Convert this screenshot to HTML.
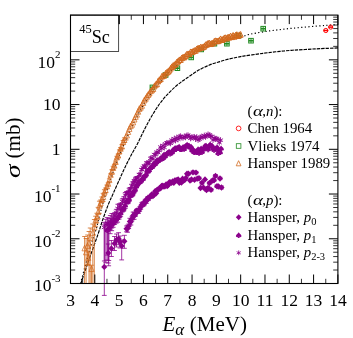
<!DOCTYPE html>
<html><head><meta charset="utf-8"><title>45Sc</title><style>
html,body{margin:0;padding:0;background:#fff;}body{width:353px;height:338px;position:relative;overflow:hidden;font-family:"Liberation Serif",serif;color:#000;}
.t{position:absolute;white-space:nowrap;line-height:1;}#txt{position:absolute;left:0;top:0;width:353px;height:338px;opacity:0.999;will-change:opacity;}
.c{position:absolute;white-space:nowrap;line-height:1;transform:translateX(-50%);}
.r{position:absolute;white-space:nowrap;line-height:1;text-align:right;}
sup,sub{line-height:0;}
</style></head><body>
<svg width="353" height="338" viewBox="0 0 353 338" style="position:absolute;left:0;top:0;overflow:visible">
<rect x="0" y="0" width="353" height="338" fill="#fff"/>
<path d="M80.50 283.50 C81.17 281.00 83.15 273.45 84.50 268.50 C85.85 263.55 87.28 258.48 88.60 253.80 C89.92 249.12 91.12 244.57 92.40 240.40 C93.68 236.23 95.37 231.87 96.30 228.80 C97.23 225.73 97.30 224.80 98.00 222.00 C98.70 219.20 99.50 215.75 100.50 212.00 C101.50 208.25 102.75 203.67 104.00 199.50 C105.25 195.33 106.58 191.25 108.00 187.00 C109.42 182.75 110.83 178.67 112.50 174.00 C114.17 169.33 116.08 163.93 118.00 159.00 C119.92 154.07 121.80 149.54 124.00 144.43 C126.20 139.31 128.97 133.13 131.20 128.32 C133.43 123.50 135.33 119.48 137.40 115.54 C139.47 111.61 141.52 108.08 143.60 104.70 C145.68 101.32 147.82 98.27 149.90 95.29 C151.98 92.31 154.03 89.48 156.10 86.80 C158.17 84.12 160.22 81.53 162.30 79.20 C164.38 76.87 166.52 74.80 168.60 72.80 C170.68 70.80 172.48 69.32 174.80 67.20 C177.12 65.08 180.18 61.98 182.50 60.10 C184.82 58.22 186.63 57.20 188.70 55.90 C190.77 54.60 192.82 53.42 194.90 52.30 C196.98 51.18 199.12 50.21 201.20 49.19 C203.28 48.18 205.33 47.13 207.40 46.22 C209.47 45.31 211.52 44.52 213.60 43.74 C215.68 42.96 217.82 42.23 219.90 41.53 C221.98 40.82 224.03 40.13 226.10 39.51 C228.17 38.88 229.90 38.17 232.30 37.79 C234.70 37.41 237.88 37.74 240.50 37.22 C243.12 36.71 245.42 35.39 248.00 34.70 C250.58 34.01 252.67 33.70 256.00 33.10 C259.33 32.50 264.00 31.68 268.00 31.10 C272.00 30.52 276.00 30.07 280.00 29.60 C284.00 29.13 287.83 28.72 292.00 28.30 C296.17 27.88 300.67 27.48 305.00 27.10 C309.33 26.72 314.17 26.32 318.00 26.00 C321.83 25.68 324.58 25.45 328.00 25.20 C331.42 24.95 336.75 24.62 338.50 24.50" fill="none" stroke="#000" stroke-width="1.2" stroke-dasharray="1.2 2.4"/>
<path d="M80.90 283.50 C81.87 280.63 84.78 271.88 86.70 266.30 C88.62 260.72 90.48 255.43 92.40 250.00 C94.32 244.57 96.47 238.78 98.20 233.70 C99.93 228.62 101.12 224.37 102.80 219.50 C104.48 214.63 106.60 208.75 108.30 204.50 C110.00 200.25 111.22 198.00 113.00 194.00 C114.78 190.00 117.00 184.93 119.00 180.50 C121.00 176.07 123.00 171.57 125.00 167.40 C127.00 163.23 128.93 159.37 131.00 155.45 C133.07 151.53 135.30 147.95 137.40 143.90 C139.50 139.85 141.52 135.25 143.60 131.15 C145.68 127.05 147.82 122.99 149.90 119.30 C151.98 115.61 154.03 112.16 156.10 109.00 C158.17 105.84 160.22 102.95 162.30 100.32 C164.38 97.69 166.52 95.40 168.60 93.21 C170.68 91.03 172.73 89.05 174.80 87.20 C176.87 85.34 178.92 83.67 181.00 82.10 C183.08 80.53 184.98 79.39 187.30 77.79 C189.62 76.19 192.62 73.98 194.90 72.50 C197.18 71.02 198.92 70.00 201.00 68.90 C203.08 67.80 205.32 66.80 207.40 65.90 C209.48 65.00 211.42 64.22 213.50 63.50 C215.58 62.78 217.82 62.22 219.90 61.60 C221.98 60.98 223.93 60.35 226.00 59.80 C228.07 59.25 230.22 58.76 232.30 58.30 C234.38 57.83 236.42 57.40 238.50 57.00 C240.58 56.59 241.67 56.35 244.80 55.87 C247.93 55.39 253.43 54.64 257.30 54.11 C261.17 53.58 264.22 53.14 268.00 52.68 C271.78 52.22 276.00 51.74 280.00 51.35 C284.00 50.96 287.83 50.63 292.00 50.32 C296.17 50.01 300.33 49.76 305.00 49.49 C309.67 49.21 314.42 48.91 320.00 48.65 C325.58 48.38 335.42 48.02 338.50 47.90" fill="none" stroke="#000" stroke-width="1.15" stroke-dasharray="3.4 1.0"/>
<rect x="150.10" y="85.10" width="4.60" height="4.60" fill="none" stroke="#228b22" stroke-width="1.00"/>
<path d="M150.10 87.40h4.6" stroke="#228b22" stroke-width="1.7"/>
<path d="M152.40 85.10v4.6" stroke="#228b22" stroke-width="0.9"/>
<rect x="163.30" y="72.70" width="4.60" height="4.60" fill="none" stroke="#228b22" stroke-width="1.00"/>
<path d="M163.30 75.00h4.6" stroke="#228b22" stroke-width="1.7"/>
<path d="M165.60 72.70v4.6" stroke="#228b22" stroke-width="0.9"/>
<rect x="175.10" y="65.90" width="4.60" height="4.60" fill="none" stroke="#228b22" stroke-width="1.00"/>
<path d="M175.10 68.20h4.6" stroke="#228b22" stroke-width="1.7"/>
<path d="M177.40 65.90v4.6" stroke="#228b22" stroke-width="0.9"/>
<rect x="188.90" y="55.10" width="4.60" height="4.60" fill="none" stroke="#228b22" stroke-width="1.00"/>
<path d="M188.90 57.40h4.6" stroke="#228b22" stroke-width="1.7"/>
<path d="M191.20 55.10v4.6" stroke="#228b22" stroke-width="0.9"/>
<rect x="198.90" y="47.10" width="4.60" height="4.60" fill="none" stroke="#228b22" stroke-width="1.00"/>
<path d="M198.90 49.40h4.6" stroke="#228b22" stroke-width="1.7"/>
<path d="M201.20 47.10v4.6" stroke="#228b22" stroke-width="0.9"/>
<rect x="212.10" y="41.40" width="4.60" height="4.60" fill="none" stroke="#228b22" stroke-width="1.00"/>
<path d="M212.10 43.70h4.6" stroke="#228b22" stroke-width="1.7"/>
<path d="M214.40 41.40v4.6" stroke="#228b22" stroke-width="0.9"/>
<rect x="224.60" y="41.40" width="4.60" height="4.60" fill="none" stroke="#228b22" stroke-width="1.00"/>
<path d="M224.60 43.70h4.6" stroke="#228b22" stroke-width="1.7"/>
<path d="M226.90 41.40v4.6" stroke="#228b22" stroke-width="0.9"/>
<rect x="236.30" y="33.40" width="4.60" height="4.60" fill="none" stroke="#228b22" stroke-width="1.00"/>
<path d="M236.30 35.70h4.6" stroke="#228b22" stroke-width="1.7"/>
<path d="M238.60 33.40v4.6" stroke="#228b22" stroke-width="0.9"/>
<rect x="248.70" y="38.40" width="4.60" height="4.60" fill="none" stroke="#228b22" stroke-width="1.00"/>
<path d="M248.70 40.70h4.6" stroke="#228b22" stroke-width="1.7"/>
<path d="M251.00 38.40v4.6" stroke="#228b22" stroke-width="0.9"/>
<rect x="260.90" y="26.40" width="4.60" height="4.60" fill="none" stroke="#228b22" stroke-width="1.00"/>
<path d="M260.90 28.70h4.6" stroke="#228b22" stroke-width="1.7"/>
<path d="M263.20 26.40v4.6" stroke="#228b22" stroke-width="0.9"/>
<circle cx="325.80" cy="30.50" r="2.10" fill="none" stroke="#ff0000" stroke-width="1.00"/>
<path d="M323.50 30.50h4.6" stroke="#ff0000" stroke-width="1.5"/>
<circle cx="330.70" cy="27.10" r="2.10" fill="none" stroke="#ff0000" stroke-width="1.00"/>
<path d="M328.40 27.10h4.6" stroke="#ff0000" stroke-width="1.5"/>
<path d="M84.60 236.50V283.50M82.20 236.50h4.80" stroke="#d2691e" stroke-width="0.80" fill="none"/>
<path d="M86.10 238.50V283.50M83.70 238.50h4.80" stroke="#d2691e" stroke-width="0.80" fill="none"/>
<path d="M87.60 235.00V265.00M85.20 235.00h4.80M85.20 265.00h4.80" stroke="#d2691e" stroke-width="0.80" fill="none"/>
<path d="M89.00 231.50V283.50M86.60 231.50h4.80" stroke="#d2691e" stroke-width="0.80" fill="none"/>
<path d="M90.20 228.00V283.50M87.80 228.00h4.80" stroke="#d2691e" stroke-width="0.80" fill="none"/>
<path d="M91.50 265.20V283.50M89.10 265.20h4.80" stroke="#d2691e" stroke-width="0.80" fill="none"/>
<path d="M92.80 224.00V283.50M90.40 224.00h4.80" stroke="#d2691e" stroke-width="0.80" fill="none"/>
<path d="M94.30 219.50V283.50M91.90 219.50h4.80" stroke="#d2691e" stroke-width="0.80" fill="none"/>
<path d="M88.30 252.00V265.00M85.90 252.00h4.80M85.90 265.00h4.80" stroke="#d2691e" stroke-width="0.80" fill="none"/>
<path d="M95.60 216.23V226.29M93.20 216.23h4.80M93.20 226.29h4.80" stroke="#d2691e" stroke-width="0.80" fill="none"/>
<path d="M96.85 213.24V222.85M94.45 213.24h4.80M94.45 222.85h4.80" stroke="#d2691e" stroke-width="0.80" fill="none"/>
<path d="M98.10 207.35V218.66M95.70 207.35h4.80M95.70 218.66h4.80" stroke="#d2691e" stroke-width="0.80" fill="none"/>
<path d="M99.35 201.19V213.31M96.95 201.19h4.80M96.95 213.31h4.80" stroke="#d2691e" stroke-width="0.80" fill="none"/>
<path d="M100.60 200.05V206.82M98.20 200.05h4.80M98.20 206.82h4.80" stroke="#d2691e" stroke-width="0.80" fill="none"/>
<path d="M101.85 197.01V202.68M99.45 197.01h4.80M99.45 202.68h4.80" stroke="#d2691e" stroke-width="0.80" fill="none"/>
<path d="M103.10 193.34V201.38M100.70 193.34h4.80M100.70 201.38h4.80" stroke="#d2691e" stroke-width="0.80" fill="none"/>
<path d="M104.35 189.72V195.82M101.95 189.72h4.80M101.95 195.82h4.80" stroke="#d2691e" stroke-width="0.80" fill="none"/>
<path d="M105.60 188.04V192.69M103.20 188.04h4.80M103.20 192.69h4.80" stroke="#d2691e" stroke-width="0.80" fill="none"/>
<path d="M106.85 185.06V188.18M104.45 185.06h4.80M104.45 188.18h4.80" stroke="#d2691e" stroke-width="0.80" fill="none"/>
<path d="M108.10 182.98V185.11M105.70 182.98h4.80M105.70 185.11h4.80" stroke="#d2691e" stroke-width="0.80" fill="none"/>
<path d="M109.35 178.83V181.64M106.95 178.83h4.80M106.95 181.64h4.80" stroke="#d2691e" stroke-width="0.80" fill="none"/>
<path d="M110.60 173.84V176.17M108.20 173.84h4.80M108.20 176.17h4.80" stroke="#d2691e" stroke-width="0.80" fill="none"/>
<path d="M111.85 169.73V174.01M109.45 169.73h4.80M109.45 174.01h4.80" stroke="#d2691e" stroke-width="0.80" fill="none"/>
<path d="M113.10 166.28V169.91M110.70 166.28h4.80M110.70 169.91h4.80" stroke="#d2691e" stroke-width="0.80" fill="none"/>
<path d="M114.35 164.27V167.31M111.95 164.27h4.80M111.95 167.31h4.80" stroke="#d2691e" stroke-width="0.80" fill="none"/>
<path d="M115.60 161.07V163.25M113.20 161.07h4.80M113.20 163.25h4.80" stroke="#d2691e" stroke-width="0.80" fill="none"/>
<path d="M116.85 156.29V158.87M114.45 156.29h4.80M114.45 158.87h4.80" stroke="#d2691e" stroke-width="0.80" fill="none"/>
<path d="M118.10 154.09V157.28M115.70 154.09h4.80M115.70 157.28h4.80" stroke="#d2691e" stroke-width="0.80" fill="none"/>
<path d="M119.35 149.90V153.54M116.95 149.90h4.80M116.95 153.54h4.80" stroke="#d2691e" stroke-width="0.80" fill="none"/>
<path d="M120.60 147.54V150.38M118.20 147.54h4.80M118.20 150.38h4.80" stroke="#d2691e" stroke-width="0.80" fill="none"/>
<path d="M121.85 144.71V148.67M119.45 144.71h4.80M119.45 148.67h4.80" stroke="#d2691e" stroke-width="0.80" fill="none"/>
<path d="M123.10 140.47V144.08M120.70 140.47h4.80M120.70 144.08h4.80" stroke="#d2691e" stroke-width="0.80" fill="none"/>
<path d="M124.35 137.89V142.34M121.95 137.89h4.80M121.95 142.34h4.80" stroke="#d2691e" stroke-width="0.80" fill="none"/>
<path d="M125.60 137.28V138.37" stroke="#d2691e" stroke-width="0.80" fill="none"/>
<path d="M126.85 135.17V136.09" stroke="#d2691e" stroke-width="0.80" fill="none"/>
<path d="M128.10 131.35V132.91" stroke="#d2691e" stroke-width="0.80" fill="none"/>
<path d="M129.35 128.46V129.75" stroke="#d2691e" stroke-width="0.80" fill="none"/>
<path d="M130.60 125.59V127.06" stroke="#d2691e" stroke-width="0.80" fill="none"/>
<path d="M131.85 124.22V125.60" stroke="#d2691e" stroke-width="0.80" fill="none"/>
<path d="M133.10 121.98V123.09" stroke="#d2691e" stroke-width="0.80" fill="none"/>
<path d="M134.35 118.99V120.39" stroke="#d2691e" stroke-width="0.80" fill="none"/>
<path d="M135.60 116.32V117.58" stroke="#d2691e" stroke-width="0.80" fill="none"/>
<path d="M136.85 113.94V115.68" stroke="#d2691e" stroke-width="0.80" fill="none"/>
<path d="M138.10 111.16V112.62" stroke="#d2691e" stroke-width="0.80" fill="none"/>
<path d="M139.35 108.31V109.81" stroke="#d2691e" stroke-width="0.80" fill="none"/>
<path d="M140.60 106.94V108.73" stroke="#d2691e" stroke-width="0.80" fill="none"/>
<path d="M141.85 105.40V106.49" stroke="#d2691e" stroke-width="0.80" fill="none"/>
<path d="M143.10 102.35V103.82" stroke="#d2691e" stroke-width="0.80" fill="none"/>
<path d="M144.35 99.89V101.15" stroke="#d2691e" stroke-width="0.80" fill="none"/>
<path d="M145.60 98.42V99.34" stroke="#d2691e" stroke-width="0.80" fill="none"/>
<path d="M146.85 96.06V97.62" stroke="#d2691e" stroke-width="0.80" fill="none"/>
<path d="M148.10 94.56V95.61" stroke="#d2691e" stroke-width="0.80" fill="none"/>
<path d="M149.35 92.80V94.47" stroke="#d2691e" stroke-width="0.80" fill="none"/>
<path d="M150.60 90.74V91.99" stroke="#d2691e" stroke-width="0.80" fill="none"/>
<path d="M151.85 89.56V91.24" stroke="#d2691e" stroke-width="0.80" fill="none"/>
<path d="M153.10 88.29V89.95" stroke="#d2691e" stroke-width="0.80" fill="none"/>
<path d="M154.35 85.93V87.15" stroke="#d2691e" stroke-width="0.80" fill="none"/>
<path d="M155.60 84.12V85.80" stroke="#d2691e" stroke-width="0.80" fill="none"/>
<path d="M156.85 83.85V84.80" stroke="#d2691e" stroke-width="0.80" fill="none"/>
<path d="M158.10 81.05V82.08" stroke="#d2691e" stroke-width="0.80" fill="none"/>
<path d="M159.35 79.50V80.78" stroke="#d2691e" stroke-width="0.80" fill="none"/>
<path d="M160.60 78.67V79.73" stroke="#d2691e" stroke-width="0.80" fill="none"/>
<path d="M161.85 76.14V77.36" stroke="#d2691e" stroke-width="0.80" fill="none"/>
<path d="M163.10 75.31V76.67" stroke="#d2691e" stroke-width="0.80" fill="none"/>
<path d="M164.35 74.93V76.42" stroke="#d2691e" stroke-width="0.80" fill="none"/>
<path d="M165.60 73.02V74.43" stroke="#d2691e" stroke-width="0.80" fill="none"/>
<path d="M166.85 72.30V73.16" stroke="#d2691e" stroke-width="0.80" fill="none"/>
<path d="M168.10 71.05V72.63" stroke="#d2691e" stroke-width="0.80" fill="none"/>
<path d="M169.35 69.83V71.43" stroke="#d2691e" stroke-width="0.80" fill="none"/>
<path d="M170.60 68.15V69.35" stroke="#d2691e" stroke-width="0.80" fill="none"/>
<path d="M171.85 66.47V67.90" stroke="#d2691e" stroke-width="0.80" fill="none"/>
<path d="M173.10 65.57V66.44" stroke="#d2691e" stroke-width="0.80" fill="none"/>
<path d="M174.35 64.65V65.61" stroke="#d2691e" stroke-width="0.80" fill="none"/>
<path d="M175.60 63.78V64.63" stroke="#d2691e" stroke-width="0.80" fill="none"/>
<path d="M176.85 62.03V62.99" stroke="#d2691e" stroke-width="0.80" fill="none"/>
<path d="M178.10 60.94V62.10" stroke="#d2691e" stroke-width="0.80" fill="none"/>
<path d="M179.35 59.41V61.08" stroke="#d2691e" stroke-width="0.80" fill="none"/>
<path d="M180.60 59.56V60.51" stroke="#d2691e" stroke-width="0.80" fill="none"/>
<path d="M181.85 57.73V58.88" stroke="#d2691e" stroke-width="0.80" fill="none"/>
<path d="M183.10 57.03V57.96" stroke="#d2691e" stroke-width="0.80" fill="none"/>
<path d="M184.35 56.57V58.36" stroke="#d2691e" stroke-width="0.80" fill="none"/>
<path d="M185.60 55.40V56.69" stroke="#d2691e" stroke-width="0.80" fill="none"/>
<path d="M186.85 54.18V55.08" stroke="#d2691e" stroke-width="0.80" fill="none"/>
<path d="M188.10 53.70V54.77" stroke="#d2691e" stroke-width="0.80" fill="none"/>
<path d="M189.35 53.78V54.74" stroke="#d2691e" stroke-width="0.80" fill="none"/>
<path d="M190.60 51.39V53.14" stroke="#d2691e" stroke-width="0.80" fill="none"/>
<path d="M191.85 51.89V52.84" stroke="#d2691e" stroke-width="0.80" fill="none"/>
<path d="M193.10 51.27V52.10" stroke="#d2691e" stroke-width="0.80" fill="none"/>
<path d="M194.35 50.07V51.84" stroke="#d2691e" stroke-width="0.80" fill="none"/>
<path d="M195.60 50.10V51.60" stroke="#d2691e" stroke-width="0.80" fill="none"/>
<path d="M196.85 48.70V49.87" stroke="#d2691e" stroke-width="0.80" fill="none"/>
<path d="M198.10 47.75V49.33" stroke="#d2691e" stroke-width="0.80" fill="none"/>
<path d="M199.35 47.74V49.32" stroke="#d2691e" stroke-width="0.80" fill="none"/>
<path d="M200.60 47.10V48.12" stroke="#d2691e" stroke-width="0.80" fill="none"/>
<path d="M201.85 46.90V48.68" stroke="#d2691e" stroke-width="0.80" fill="none"/>
<path d="M203.10 46.47V48.08" stroke="#d2691e" stroke-width="0.80" fill="none"/>
<path d="M204.35 45.87V47.41" stroke="#d2691e" stroke-width="0.80" fill="none"/>
<path d="M205.60 44.46V45.77" stroke="#d2691e" stroke-width="0.80" fill="none"/>
<path d="M206.85 44.33V45.16" stroke="#d2691e" stroke-width="0.80" fill="none"/>
<path d="M208.10 43.15V44.23" stroke="#d2691e" stroke-width="0.80" fill="none"/>
<path d="M209.35 42.84V44.33" stroke="#d2691e" stroke-width="0.80" fill="none"/>
<path d="M210.60 43.60V44.84" stroke="#d2691e" stroke-width="0.80" fill="none"/>
<path d="M211.85 42.82V44.60" stroke="#d2691e" stroke-width="0.80" fill="none"/>
<path d="M213.10 42.68V43.84" stroke="#d2691e" stroke-width="0.80" fill="none"/>
<path d="M214.35 41.12V42.14" stroke="#d2691e" stroke-width="0.80" fill="none"/>
<path d="M215.60 40.65V41.65" stroke="#d2691e" stroke-width="0.80" fill="none"/>
<path d="M216.85 40.55V42.25" stroke="#d2691e" stroke-width="0.80" fill="none"/>
<path d="M218.10 40.66V41.94" stroke="#d2691e" stroke-width="0.80" fill="none"/>
<path d="M219.35 39.77V41.36" stroke="#d2691e" stroke-width="0.80" fill="none"/>
<path d="M220.60 38.52V39.98" stroke="#d2691e" stroke-width="0.80" fill="none"/>
<path d="M221.85 39.39V40.97" stroke="#d2691e" stroke-width="0.80" fill="none"/>
<path d="M223.10 38.90V40.18" stroke="#d2691e" stroke-width="0.80" fill="none"/>
<path d="M224.35 37.44V39.03" stroke="#d2691e" stroke-width="0.80" fill="none"/>
<path d="M225.60 37.29V38.90" stroke="#d2691e" stroke-width="0.80" fill="none"/>
<path d="M226.85 38.16V39.35" stroke="#d2691e" stroke-width="0.80" fill="none"/>
<path d="M228.10 36.62V38.37" stroke="#d2691e" stroke-width="0.80" fill="none"/>
<path d="M229.35 37.18V38.15" stroke="#d2691e" stroke-width="0.80" fill="none"/>
<path d="M230.60 35.89V36.84" stroke="#d2691e" stroke-width="0.80" fill="none"/>
<path d="M231.85 36.46V38.06" stroke="#d2691e" stroke-width="0.80" fill="none"/>
<path d="M233.10 34.95V36.58" stroke="#d2691e" stroke-width="0.80" fill="none"/>
<path d="M234.35 36.14V37.59" stroke="#d2691e" stroke-width="0.80" fill="none"/>
<path d="M235.60 34.94V36.29" stroke="#d2691e" stroke-width="0.80" fill="none"/>
<path d="M236.85 34.62V35.44" stroke="#d2691e" stroke-width="0.80" fill="none"/>
<path d="M238.10 35.41V36.86" stroke="#d2691e" stroke-width="0.80" fill="none"/>
<path d="M239.35 34.32V36.05" stroke="#d2691e" stroke-width="0.80" fill="none"/>
<path d="M240.60 33.96V35.63" stroke="#d2691e" stroke-width="0.80" fill="none"/>
<path d="M84.60 245.20L87.21 250.84L81.99 250.84Z" fill="none" stroke="#d2691e" stroke-width="0.72"/>
<path d="M86.10 249.20L88.71 254.84L83.49 254.84Z" fill="none" stroke="#d2691e" stroke-width="0.72"/>
<path d="M87.60 242.70L90.21 248.34L84.99 248.34Z" fill="none" stroke="#d2691e" stroke-width="0.72"/>
<path d="M89.00 240.20L91.61 245.84L86.39 245.84Z" fill="none" stroke="#d2691e" stroke-width="0.72"/>
<path d="M90.20 234.70L92.81 240.34L87.59 240.34Z" fill="none" stroke="#d2691e" stroke-width="0.72"/>
<path d="M91.50 265.90L94.11 271.54L88.89 271.54Z" fill="none" stroke="#d2691e" stroke-width="0.72"/>
<path d="M92.80 229.70L95.41 235.34L90.19 235.34Z" fill="none" stroke="#d2691e" stroke-width="0.72"/>
<path d="M94.30 224.20L96.91 229.84L91.69 229.84Z" fill="none" stroke="#d2691e" stroke-width="0.72"/>
<path d="M88.30 254.70L90.91 260.34L85.69 260.34Z" fill="none" stroke="#d2691e" stroke-width="0.72"/>
<path d="M95.60 217.30L98.21 222.94L92.99 222.94Z" fill="none" stroke="#d2691e" stroke-width="0.72"/>
<path d="M96.85 214.12L99.46 219.75L94.24 219.75Z" fill="none" stroke="#d2691e" stroke-width="0.72"/>
<path d="M98.10 208.97L100.71 214.61L95.49 214.61Z" fill="none" stroke="#d2691e" stroke-width="0.72"/>
<path d="M99.35 203.16L101.96 208.80L96.74 208.80Z" fill="none" stroke="#d2691e" stroke-width="0.72"/>
<path d="M100.60 199.90L103.21 205.53L97.99 205.53Z" fill="none" stroke="#d2691e" stroke-width="0.72"/>
<path d="M101.85 196.35L104.46 201.98L99.24 201.98Z" fill="none" stroke="#d2691e" stroke-width="0.72"/>
<path d="M103.10 193.78L105.71 199.42L100.49 199.42Z" fill="none" stroke="#d2691e" stroke-width="0.72"/>
<path d="M104.35 189.26L106.96 194.89L101.74 194.89Z" fill="none" stroke="#d2691e" stroke-width="0.72"/>
<path d="M105.60 187.07L108.21 192.70L102.99 192.70Z" fill="none" stroke="#d2691e" stroke-width="0.72"/>
<path d="M106.85 183.32L109.46 188.96L104.24 188.96Z" fill="none" stroke="#d2691e" stroke-width="0.72"/>
<path d="M108.10 180.74L110.71 186.38L105.49 186.38Z" fill="none" stroke="#d2691e" stroke-width="0.72"/>
<path d="M109.35 176.94L111.96 182.58L106.74 182.58Z" fill="none" stroke="#d2691e" stroke-width="0.72"/>
<path d="M110.60 171.70L113.21 177.34L107.99 177.34Z" fill="none" stroke="#d2691e" stroke-width="0.72"/>
<path d="M111.85 168.57L114.46 174.21L109.24 174.21Z" fill="none" stroke="#d2691e" stroke-width="0.72"/>
<path d="M113.10 164.80L115.71 170.43L110.49 170.43Z" fill="none" stroke="#d2691e" stroke-width="0.72"/>
<path d="M114.35 162.49L116.96 168.13L111.74 168.13Z" fill="none" stroke="#d2691e" stroke-width="0.72"/>
<path d="M115.60 158.86L118.21 164.50L112.99 164.50Z" fill="none" stroke="#d2691e" stroke-width="0.72"/>
<path d="M116.85 154.28L119.46 159.92L114.24 159.92Z" fill="none" stroke="#d2691e" stroke-width="0.72"/>
<path d="M118.10 152.39L120.71 158.02L115.49 158.02Z" fill="none" stroke="#d2691e" stroke-width="0.72"/>
<path d="M119.35 148.42L121.96 154.05L116.74 154.05Z" fill="none" stroke="#d2691e" stroke-width="0.72"/>
<path d="M120.60 145.66L123.21 151.30L117.99 151.30Z" fill="none" stroke="#d2691e" stroke-width="0.72"/>
<path d="M121.85 143.39L124.46 149.03L119.24 149.03Z" fill="none" stroke="#d2691e" stroke-width="0.72"/>
<path d="M123.10 138.98L125.71 144.61L120.49 144.61Z" fill="none" stroke="#d2691e" stroke-width="0.72"/>
<path d="M124.35 136.82L126.96 142.45L121.74 142.45Z" fill="none" stroke="#d2691e" stroke-width="0.72"/>
<path d="M125.60 134.52L128.21 140.16L122.99 140.16Z" fill="none" stroke="#d2691e" stroke-width="0.72"/>
<path d="M126.85 132.33L129.46 137.96L124.24 137.96Z" fill="none" stroke="#d2691e" stroke-width="0.72"/>
<path d="M128.10 128.83L130.71 134.47L125.49 134.47Z" fill="none" stroke="#d2691e" stroke-width="0.72"/>
<path d="M129.35 125.81L131.96 131.44L126.74 131.44Z" fill="none" stroke="#d2691e" stroke-width="0.72"/>
<path d="M130.60 123.03L133.21 128.66L127.99 128.66Z" fill="none" stroke="#d2691e" stroke-width="0.72"/>
<path d="M131.85 121.61L134.46 127.25L129.24 127.25Z" fill="none" stroke="#d2691e" stroke-width="0.73"/>
<path d="M133.10 119.23L135.71 124.87L130.49 124.87Z" fill="none" stroke="#d2691e" stroke-width="0.74"/>
<path d="M134.35 116.39L136.96 122.03L131.74 122.03Z" fill="none" stroke="#d2691e" stroke-width="0.75"/>
<path d="M135.60 113.65L138.21 119.29L132.99 119.29Z" fill="none" stroke="#d2691e" stroke-width="0.76"/>
<path d="M136.85 111.51L139.46 117.15L134.24 117.15Z" fill="none" stroke="#d2691e" stroke-width="0.77"/>
<path d="M138.10 108.59L140.71 114.23L135.49 114.23Z" fill="none" stroke="#d2691e" stroke-width="0.78"/>
<path d="M139.35 105.76L141.96 111.40L136.74 111.40Z" fill="none" stroke="#d2691e" stroke-width="0.79"/>
<path d="M140.60 104.53L143.21 110.17L137.99 110.17Z" fill="none" stroke="#d2691e" stroke-width="0.79"/>
<path d="M141.85 102.65L144.46 108.28L139.24 108.28Z" fill="none" stroke="#d2691e" stroke-width="0.80"/>
<path d="M143.10 99.78L145.71 105.42L140.49 105.42Z" fill="none" stroke="#d2691e" stroke-width="0.81"/>
<path d="M144.35 97.22L146.96 102.85L141.74 102.85Z" fill="none" stroke="#d2691e" stroke-width="0.82"/>
<path d="M145.60 95.58L148.21 101.22L142.99 101.22Z" fill="none" stroke="#d2691e" stroke-width="0.83"/>
<path d="M146.85 93.54L149.46 99.18L144.24 99.18Z" fill="none" stroke="#d2691e" stroke-width="0.84"/>
<path d="M148.10 91.79L150.71 97.42L145.49 97.42Z" fill="none" stroke="#d2691e" stroke-width="0.85"/>
<path d="M149.35 90.34L151.96 95.98L146.74 95.98Z" fill="none" stroke="#d2691e" stroke-width="0.86"/>
<path d="M150.60 88.06L153.21 93.70L147.99 93.70Z" fill="none" stroke="#d2691e" stroke-width="0.86"/>
<path d="M151.85 87.10L154.46 92.74L149.24 92.74Z" fill="none" stroke="#d2691e" stroke-width="0.87"/>
<path d="M153.10 85.82L155.71 91.46L150.49 91.46Z" fill="none" stroke="#d2691e" stroke-width="0.88"/>
<path d="M154.35 83.24L156.96 88.88L151.74 88.88Z" fill="none" stroke="#d2691e" stroke-width="0.89"/>
<path d="M155.60 81.66L158.21 87.30L152.99 87.30Z" fill="none" stroke="#d2691e" stroke-width="0.90"/>
<path d="M156.85 81.03L159.46 86.66L154.24 86.66Z" fill="none" stroke="#d2691e" stroke-width="0.91"/>
<path d="M158.10 78.26L160.71 83.90L155.49 83.90Z" fill="none" stroke="#d2691e" stroke-width="0.92"/>
<path d="M159.35 76.84L161.96 82.48L156.74 82.48Z" fill="none" stroke="#d2691e" stroke-width="0.93"/>
<path d="M160.60 75.90L163.21 81.54L157.99 81.54Z" fill="none" stroke="#d2691e" stroke-width="0.93"/>
<path d="M161.85 73.45L164.46 79.09L159.24 79.09Z" fill="none" stroke="#d2691e" stroke-width="0.94"/>
<path d="M163.10 72.69L165.71 78.33L160.49 78.33Z" fill="none" stroke="#d2691e" stroke-width="0.95"/>
<path d="M164.35 72.37L166.96 78.01L161.74 78.01Z" fill="none" stroke="#d2691e" stroke-width="0.96"/>
<path d="M165.60 70.42L168.21 76.06L162.99 76.06Z" fill="none" stroke="#d2691e" stroke-width="0.97"/>
<path d="M166.85 69.43L169.46 75.07L164.24 75.07Z" fill="none" stroke="#d2691e" stroke-width="0.98"/>
<path d="M168.10 68.54L170.71 74.18L165.49 74.18Z" fill="none" stroke="#d2691e" stroke-width="0.99"/>
<path d="M169.35 67.33L171.96 72.97L166.74 72.97Z" fill="none" stroke="#d2691e" stroke-width="1.00"/>
<path d="M170.60 65.45L173.21 71.09L167.99 71.09Z" fill="none" stroke="#d2691e" stroke-width="1.00"/>
<path d="M171.85 63.88L174.46 69.52L169.24 69.52Z" fill="none" stroke="#d2691e" stroke-width="1.00"/>
<path d="M173.10 62.71L175.71 68.35L170.49 68.35Z" fill="none" stroke="#d2691e" stroke-width="1.00"/>
<path d="M174.35 61.83L176.96 67.47L171.74 67.47Z" fill="none" stroke="#d2691e" stroke-width="1.00"/>
<path d="M175.60 60.91L178.21 66.54L172.99 66.54Z" fill="none" stroke="#d2691e" stroke-width="1.00"/>
<path d="M176.85 59.21L179.46 64.85L174.24 64.85Z" fill="none" stroke="#d2691e" stroke-width="1.00"/>
<path d="M178.10 58.22L180.71 63.86L175.49 63.86Z" fill="none" stroke="#d2691e" stroke-width="1.00"/>
<path d="M179.35 56.95L181.96 62.58L176.74 62.58Z" fill="none" stroke="#d2691e" stroke-width="1.00"/>
<path d="M180.60 56.73L183.21 62.37L177.99 62.37Z" fill="none" stroke="#d2691e" stroke-width="1.00"/>
<path d="M181.85 55.00L184.46 60.64L179.24 60.64Z" fill="none" stroke="#d2691e" stroke-width="1.00"/>
<path d="M183.10 54.20L185.71 59.83L180.49 59.83Z" fill="none" stroke="#d2691e" stroke-width="1.00"/>
<path d="M184.35 54.16L186.96 59.80L181.74 59.80Z" fill="none" stroke="#d2691e" stroke-width="1.00"/>
<path d="M185.60 52.75L188.21 58.38L182.99 58.38Z" fill="none" stroke="#d2691e" stroke-width="1.00"/>
<path d="M186.85 51.33L189.46 56.97L184.24 56.97Z" fill="none" stroke="#d2691e" stroke-width="1.00"/>
<path d="M188.10 50.94L190.71 56.57L185.49 56.57Z" fill="none" stroke="#d2691e" stroke-width="1.00"/>
<path d="M189.35 50.96L191.96 56.60L186.74 56.60Z" fill="none" stroke="#d2691e" stroke-width="1.00"/>
<path d="M190.60 48.96L193.21 54.60L187.99 54.60Z" fill="none" stroke="#d2691e" stroke-width="1.00"/>
<path d="M191.85 49.07L194.46 54.70L189.24 54.70Z" fill="none" stroke="#d2691e" stroke-width="1.00"/>
<path d="M193.10 48.39L195.71 54.02L190.49 54.02Z" fill="none" stroke="#d2691e" stroke-width="1.00"/>
<path d="M194.35 47.66L196.96 53.29L191.74 53.29Z" fill="none" stroke="#d2691e" stroke-width="1.00"/>
<path d="M195.60 47.55L198.21 53.18L192.99 53.18Z" fill="none" stroke="#d2691e" stroke-width="1.00"/>
<path d="M196.85 45.99L199.46 51.62L194.24 51.62Z" fill="none" stroke="#d2691e" stroke-width="1.00"/>
<path d="M198.10 45.24L200.71 50.88L195.49 50.88Z" fill="none" stroke="#d2691e" stroke-width="1.00"/>
<path d="M199.35 45.23L201.96 50.87L196.74 50.87Z" fill="none" stroke="#d2691e" stroke-width="1.00"/>
<path d="M200.60 44.31L203.21 49.95L197.99 49.95Z" fill="none" stroke="#d2691e" stroke-width="1.00"/>
<path d="M201.85 44.49L204.46 50.13L199.24 50.13Z" fill="none" stroke="#d2691e" stroke-width="1.00"/>
<path d="M203.10 43.98L205.71 49.61L200.49 49.61Z" fill="none" stroke="#d2691e" stroke-width="1.00"/>
<path d="M204.35 43.34L206.96 48.98L201.74 48.98Z" fill="none" stroke="#d2691e" stroke-width="1.00"/>
<path d="M205.60 41.82L208.21 47.45L202.99 47.45Z" fill="none" stroke="#d2691e" stroke-width="1.00"/>
<path d="M206.85 41.44L209.46 47.08L204.24 47.08Z" fill="none" stroke="#d2691e" stroke-width="1.00"/>
<path d="M208.10 40.39L210.71 46.03L205.49 46.03Z" fill="none" stroke="#d2691e" stroke-width="1.00"/>
<path d="M209.35 40.28L211.96 45.92L206.74 45.92Z" fill="none" stroke="#d2691e" stroke-width="1.00"/>
<path d="M210.60 40.92L213.21 46.56L207.99 46.56Z" fill="none" stroke="#d2691e" stroke-width="1.00"/>
<path d="M211.85 40.41L214.46 46.05L209.24 46.05Z" fill="none" stroke="#d2691e" stroke-width="1.00"/>
<path d="M213.10 39.96L215.71 45.60L210.49 45.60Z" fill="none" stroke="#d2691e" stroke-width="1.00"/>
<path d="M214.35 38.33L216.96 43.97L211.74 43.97Z" fill="none" stroke="#d2691e" stroke-width="1.00"/>
<path d="M215.60 37.85L218.21 43.49L212.99 43.49Z" fill="none" stroke="#d2691e" stroke-width="1.00"/>
<path d="M216.85 38.10L219.46 43.73L214.24 43.73Z" fill="none" stroke="#d2691e" stroke-width="1.00"/>
<path d="M218.10 38.00L220.71 43.64L215.49 43.64Z" fill="none" stroke="#d2691e" stroke-width="1.00"/>
<path d="M219.35 37.27L221.96 42.90L216.74 42.90Z" fill="none" stroke="#d2691e" stroke-width="1.00"/>
<path d="M220.60 35.95L223.21 41.58L217.99 41.58Z" fill="none" stroke="#d2691e" stroke-width="1.00"/>
<path d="M221.85 36.88L224.46 42.52L219.24 42.52Z" fill="none" stroke="#d2691e" stroke-width="1.00"/>
<path d="M223.10 36.24L225.71 41.87L220.49 41.87Z" fill="none" stroke="#d2691e" stroke-width="1.00"/>
<path d="M224.35 34.94L226.96 40.57L221.74 40.57Z" fill="none" stroke="#d2691e" stroke-width="1.00"/>
<path d="M225.60 34.80L228.21 40.43L222.99 40.43Z" fill="none" stroke="#d2691e" stroke-width="1.00"/>
<path d="M226.85 35.45L229.46 41.09L224.24 41.09Z" fill="none" stroke="#d2691e" stroke-width="1.00"/>
<path d="M228.10 34.20L230.71 39.83L225.49 39.83Z" fill="none" stroke="#d2691e" stroke-width="1.00"/>
<path d="M229.35 34.37L231.96 40.00L226.74 40.00Z" fill="none" stroke="#d2691e" stroke-width="1.00"/>
<path d="M230.60 33.06L233.21 38.70L227.99 38.70Z" fill="none" stroke="#d2691e" stroke-width="1.00"/>
<path d="M231.85 33.96L234.46 39.60L229.24 39.60Z" fill="none" stroke="#d2691e" stroke-width="1.00"/>
<path d="M233.10 32.47L235.71 38.11L230.49 38.11Z" fill="none" stroke="#d2691e" stroke-width="1.00"/>
<path d="M234.35 33.56L236.96 39.20L231.74 39.20Z" fill="none" stroke="#d2691e" stroke-width="1.00"/>
<path d="M235.60 32.32L238.21 37.96L232.99 37.96Z" fill="none" stroke="#d2691e" stroke-width="1.00"/>
<path d="M236.85 31.73L239.46 37.37L234.24 37.37Z" fill="none" stroke="#d2691e" stroke-width="1.00"/>
<path d="M238.10 32.83L240.71 38.47L235.49 38.47Z" fill="none" stroke="#d2691e" stroke-width="1.00"/>
<path d="M239.35 31.88L241.96 37.52L236.74 37.52Z" fill="none" stroke="#d2691e" stroke-width="1.00"/>
<path d="M240.60 31.50L243.21 37.13L237.99 37.13Z" fill="none" stroke="#d2691e" stroke-width="1.00"/>
<path d="M104.30 222.32V260.98M101.90 222.32h4.80M101.90 260.98h4.80" stroke="#8b008b" stroke-width="0.80" fill="none"/>
<path d="M105.80 219.31V262.75M103.40 219.31h4.80M103.40 262.75h4.80" stroke="#8b008b" stroke-width="0.80" fill="none"/>
<path d="M107.30 217.46V255.05M104.90 217.46h4.80M104.90 255.05h4.80" stroke="#8b008b" stroke-width="0.80" fill="none"/>
<path d="M108.80 218.50V260.48M106.40 218.50h4.80M106.40 260.48h4.80" stroke="#8b008b" stroke-width="0.80" fill="none"/>
<path d="M110.30 215.54V229.96M107.90 215.54h4.80M107.90 229.96h4.80" stroke="#8b008b" stroke-width="0.80" fill="none"/>
<path d="M111.80 213.51V228.02M109.40 213.51h4.80M109.40 228.02h4.80" stroke="#8b008b" stroke-width="0.80" fill="none"/>
<path d="M113.30 214.03V221.95M110.90 214.03h4.80M110.90 221.95h4.80" stroke="#8b008b" stroke-width="0.80" fill="none"/>
<path d="M114.80 212.46V218.38M112.40 212.46h4.80M112.40 218.38h4.80" stroke="#8b008b" stroke-width="0.80" fill="none"/>
<path d="M116.30 209.33V215.89M113.90 209.33h4.80M113.90 215.89h4.80" stroke="#8b008b" stroke-width="0.80" fill="none"/>
<path d="M117.80 204.25V213.22M115.40 204.25h4.80M115.40 213.22h4.80" stroke="#8b008b" stroke-width="0.80" fill="none"/>
<path d="M119.30 203.76V209.19M116.90 203.76h4.80M116.90 209.19h4.80" stroke="#8b008b" stroke-width="0.80" fill="none"/>
<path d="M120.80 203.00V208.66M118.40 203.00h4.80M118.40 208.66h4.80" stroke="#8b008b" stroke-width="0.80" fill="none"/>
<path d="M122.30 198.85V204.40M119.90 198.85h4.80M119.90 204.40h4.80" stroke="#8b008b" stroke-width="0.80" fill="none"/>
<path d="M123.80 196.73V203.01M121.40 196.73h4.80M121.40 203.01h4.80" stroke="#8b008b" stroke-width="0.80" fill="none"/>
<path d="M125.30 192.53V198.19M122.90 192.53h4.80M122.90 198.19h4.80" stroke="#8b008b" stroke-width="0.80" fill="none"/>
<path d="M126.80 191.47V194.76M124.40 191.47h4.80M124.40 194.76h4.80" stroke="#8b008b" stroke-width="0.80" fill="none"/>
<path d="M128.05 191.18V194.89M125.65 191.18h4.80M125.65 194.89h4.80" stroke="#8b008b" stroke-width="0.80" fill="none"/>
<path d="M129.30 187.98V192.16M126.90 187.98h4.80M126.90 192.16h4.80" stroke="#8b008b" stroke-width="0.80" fill="none"/>
<path d="M130.55 187.55V191.14M128.15 187.55h4.80M128.15 191.14h4.80" stroke="#8b008b" stroke-width="0.80" fill="none"/>
<path d="M131.80 184.17V187.88M129.40 184.17h4.80M129.40 187.88h4.80" stroke="#8b008b" stroke-width="0.80" fill="none"/>
<path d="M133.05 181.55V185.60M130.65 181.55h4.80M130.65 185.60h4.80" stroke="#8b008b" stroke-width="0.80" fill="none"/>
<path d="M134.30 179.48V183.24M131.90 179.48h4.80M131.90 183.24h4.80" stroke="#8b008b" stroke-width="0.80" fill="none"/>
<path d="M135.55 177.27V181.79M133.15 177.27h4.80M133.15 181.79h4.80" stroke="#8b008b" stroke-width="0.80" fill="none"/>
<path d="M136.80 176.51V180.91M134.40 176.51h4.80M134.40 180.91h4.80" stroke="#8b008b" stroke-width="0.80" fill="none"/>
<path d="M138.05 176.95V178.89" stroke="#8b008b" stroke-width="0.80" fill="none"/>
<path d="M139.30 173.35V176.03M136.90 173.35h4.80M136.90 176.03h4.80" stroke="#8b008b" stroke-width="0.80" fill="none"/>
<path d="M140.55 173.23V175.03" stroke="#8b008b" stroke-width="0.80" fill="none"/>
<path d="M141.80 168.53V170.66M139.40 168.53h4.80M139.40 170.66h4.80" stroke="#8b008b" stroke-width="0.80" fill="none"/>
<path d="M143.05 166.78V168.70" stroke="#8b008b" stroke-width="0.80" fill="none"/>
<path d="M144.30 164.89V167.27M141.90 164.89h4.80M141.90 167.27h4.80" stroke="#8b008b" stroke-width="0.80" fill="none"/>
<path d="M145.55 165.95V168.58M143.15 165.95h4.80M143.15 168.58h4.80" stroke="#8b008b" stroke-width="0.80" fill="none"/>
<path d="M146.80 161.81V164.25M144.40 161.81h4.80M144.40 164.25h4.80" stroke="#8b008b" stroke-width="0.80" fill="none"/>
<path d="M148.05 162.43V164.23" stroke="#8b008b" stroke-width="0.80" fill="none"/>
<path d="M149.30 161.14V163.85M146.90 161.14h4.80M146.90 163.85h4.80" stroke="#8b008b" stroke-width="0.80" fill="none"/>
<path d="M150.55 157.73V158.96" stroke="#8b008b" stroke-width="0.80" fill="none"/>
<path d="M151.80 157.36V158.35" stroke="#8b008b" stroke-width="0.80" fill="none"/>
<path d="M153.05 158.43V159.59" stroke="#8b008b" stroke-width="0.80" fill="none"/>
<path d="M154.30 154.01V154.97" stroke="#8b008b" stroke-width="0.80" fill="none"/>
<path d="M155.55 154.24V155.16" stroke="#8b008b" stroke-width="0.80" fill="none"/>
<path d="M156.80 151.58V152.49" stroke="#8b008b" stroke-width="0.80" fill="none"/>
<path d="M158.05 152.28V153.04" stroke="#8b008b" stroke-width="0.80" fill="none"/>
<path d="M159.30 150.02V150.99" stroke="#8b008b" stroke-width="0.80" fill="none"/>
<path d="M160.55 146.49V147.41" stroke="#8b008b" stroke-width="0.80" fill="none"/>
<path d="M161.80 148.04V149.05" stroke="#8b008b" stroke-width="0.80" fill="none"/>
<path d="M163.05 144.85V146.09" stroke="#8b008b" stroke-width="0.80" fill="none"/>
<path d="M164.30 146.92V148.15" stroke="#8b008b" stroke-width="0.80" fill="none"/>
<path d="M165.55 143.52V144.41" stroke="#8b008b" stroke-width="0.80" fill="none"/>
<path d="M166.80 142.29V143.43" stroke="#8b008b" stroke-width="0.80" fill="none"/>
<path d="M168.05 142.51V143.32" stroke="#8b008b" stroke-width="0.80" fill="none"/>
<path d="M169.30 142.05V143.25" stroke="#8b008b" stroke-width="0.80" fill="none"/>
<path d="M170.55 142.93V143.81" stroke="#8b008b" stroke-width="0.80" fill="none"/>
<path d="M171.80 139.45V140.66" stroke="#8b008b" stroke-width="0.80" fill="none"/>
<path d="M173.05 140.59V141.69" stroke="#8b008b" stroke-width="0.80" fill="none"/>
<path d="M174.30 138.22V139.00" stroke="#8b008b" stroke-width="0.80" fill="none"/>
<path d="M175.55 140.00V140.96" stroke="#8b008b" stroke-width="0.80" fill="none"/>
<path d="M176.80 136.97V138.19" stroke="#8b008b" stroke-width="0.80" fill="none"/>
<path d="M178.05 138.81V139.96" stroke="#8b008b" stroke-width="0.80" fill="none"/>
<path d="M179.30 136.16V137.34" stroke="#8b008b" stroke-width="0.80" fill="none"/>
<path d="M180.55 135.65V136.83" stroke="#8b008b" stroke-width="0.80" fill="none"/>
<path d="M181.80 137.07V137.99" stroke="#8b008b" stroke-width="0.80" fill="none"/>
<path d="M183.05 137.16V138.38" stroke="#8b008b" stroke-width="0.80" fill="none"/>
<path d="M184.30 136.06V136.88" stroke="#8b008b" stroke-width="0.80" fill="none"/>
<path d="M185.55 136.92V137.79" stroke="#8b008b" stroke-width="0.80" fill="none"/>
<path d="M186.80 135.11V135.94" stroke="#8b008b" stroke-width="0.80" fill="none"/>
<path d="M188.05 134.86V135.71" stroke="#8b008b" stroke-width="0.80" fill="none"/>
<path d="M189.30 136.01V136.92" stroke="#8b008b" stroke-width="0.80" fill="none"/>
<path d="M190.55 137.94V138.84" stroke="#8b008b" stroke-width="0.80" fill="none"/>
<path d="M191.80 137.08V137.92" stroke="#8b008b" stroke-width="0.80" fill="none"/>
<path d="M193.05 136.69V137.45" stroke="#8b008b" stroke-width="0.80" fill="none"/>
<path d="M194.30 136.49V137.24" stroke="#8b008b" stroke-width="0.80" fill="none"/>
<path d="M195.55 138.46V139.49" stroke="#8b008b" stroke-width="0.80" fill="none"/>
<path d="M196.80 136.49V137.48" stroke="#8b008b" stroke-width="0.80" fill="none"/>
<path d="M198.05 139.55V140.36" stroke="#8b008b" stroke-width="0.80" fill="none"/>
<path d="M199.30 138.66V139.63" stroke="#8b008b" stroke-width="0.80" fill="none"/>
<path d="M200.55 136.86V138.03" stroke="#8b008b" stroke-width="0.80" fill="none"/>
<path d="M201.80 136.09V137.09" stroke="#8b008b" stroke-width="0.80" fill="none"/>
<path d="M203.05 136.69V137.93" stroke="#8b008b" stroke-width="0.80" fill="none"/>
<path d="M204.30 134.98V136.14" stroke="#8b008b" stroke-width="0.80" fill="none"/>
<path d="M205.55 136.35V137.42" stroke="#8b008b" stroke-width="0.80" fill="none"/>
<path d="M206.80 135.08V136.00" stroke="#8b008b" stroke-width="0.80" fill="none"/>
<path d="M208.05 133.94V134.75" stroke="#8b008b" stroke-width="0.80" fill="none"/>
<path d="M209.30 134.47V135.59" stroke="#8b008b" stroke-width="0.80" fill="none"/>
<path d="M210.55 135.98V136.82" stroke="#8b008b" stroke-width="0.80" fill="none"/>
<path d="M211.80 135.76V136.93" stroke="#8b008b" stroke-width="0.80" fill="none"/>
<path d="M213.05 139.50V140.59" stroke="#8b008b" stroke-width="0.80" fill="none"/>
<path d="M214.30 137.77V138.65" stroke="#8b008b" stroke-width="0.80" fill="none"/>
<path d="M215.55 138.28V139.26" stroke="#8b008b" stroke-width="0.80" fill="none"/>
<path d="M216.80 138.26V139.23" stroke="#8b008b" stroke-width="0.80" fill="none"/>
<path d="M218.05 138.92V140.15" stroke="#8b008b" stroke-width="0.80" fill="none"/>
<path d="M219.30 142.19V143.22" stroke="#8b008b" stroke-width="0.80" fill="none"/>
<path d="M220.55 139.51V140.74" stroke="#8b008b" stroke-width="0.80" fill="none"/>
<path d="M104.30 224.56L104.30 230.36M106.81 226.01L101.79 228.91M106.81 228.91L101.79 226.01" stroke="#8b008b" stroke-width="0.85" fill="none"/>
<path d="M105.80 221.64L105.80 227.44M108.31 223.09L103.29 225.99M108.31 225.99L103.29 223.09" stroke="#8b008b" stroke-width="0.85" fill="none"/>
<path d="M107.30 220.31L107.30 226.11M109.81 221.76L104.79 224.66M109.81 224.66L104.79 221.76" stroke="#8b008b" stroke-width="0.85" fill="none"/>
<path d="M108.80 221.16L108.80 226.96M111.31 222.61L106.29 225.51M111.31 225.51L106.29 222.61" stroke="#8b008b" stroke-width="0.85" fill="none"/>
<path d="M110.30 218.65L110.30 224.45M112.81 220.10L107.79 223.00M112.81 223.00L107.79 220.10" stroke="#8b008b" stroke-width="0.85" fill="none"/>
<path d="M111.80 216.65L111.80 222.45M114.31 218.10L109.29 221.00M114.31 221.00L109.29 218.10" stroke="#8b008b" stroke-width="0.85" fill="none"/>
<path d="M113.30 214.79L113.30 220.59M115.81 216.24L110.79 219.14M115.81 219.14L110.79 216.24" stroke="#8b008b" stroke-width="0.85" fill="none"/>
<path d="M114.80 212.29L114.80 218.09M117.31 213.74L112.29 216.64M117.31 216.64L112.29 213.74" stroke="#8b008b" stroke-width="0.85" fill="none"/>
<path d="M116.30 209.46L116.30 215.26M118.81 210.91L113.79 213.81M118.81 213.81L113.79 210.91" stroke="#8b008b" stroke-width="0.85" fill="none"/>
<path d="M117.80 205.49L117.80 211.29M120.31 206.94L115.29 209.84M120.31 209.84L115.29 206.94" stroke="#8b008b" stroke-width="0.85" fill="none"/>
<path d="M119.30 203.43L119.30 209.23M121.81 204.88L116.79 207.78M121.81 207.78L116.79 204.88" stroke="#8b008b" stroke-width="0.85" fill="none"/>
<path d="M120.80 202.78L120.80 208.58M123.31 204.23L118.29 207.13M123.31 207.13L118.29 204.23" stroke="#8b008b" stroke-width="0.85" fill="none"/>
<path d="M122.30 198.58L122.30 204.38M124.81 200.03L119.79 202.93M124.81 202.93L119.79 200.03" stroke="#8b008b" stroke-width="0.85" fill="none"/>
<path d="M123.80 196.80L123.80 202.60M126.31 198.25L121.29 201.15M126.31 201.15L121.29 198.25" stroke="#8b008b" stroke-width="0.85" fill="none"/>
<path d="M125.30 192.30L125.30 198.10M127.81 193.75L122.79 196.65M127.81 196.65L122.79 193.75" stroke="#8b008b" stroke-width="0.85" fill="none"/>
<path d="M126.80 190.17L126.80 195.97M129.31 191.62L124.29 194.52M129.31 194.52L124.29 191.62" stroke="#8b008b" stroke-width="0.85" fill="none"/>
<path d="M128.05 190.08L128.05 195.88M130.56 191.53L125.54 194.43M130.56 194.43L125.54 191.53" stroke="#8b008b" stroke-width="0.85" fill="none"/>
<path d="M129.30 187.12L129.30 192.92M131.81 188.57L126.79 191.47M131.81 191.47L126.79 188.57" stroke="#8b008b" stroke-width="0.85" fill="none"/>
<path d="M130.55 186.39L130.55 192.19M133.06 187.84L128.04 190.74M133.06 190.74L128.04 187.84" stroke="#8b008b" stroke-width="0.85" fill="none"/>
<path d="M131.80 183.07L131.80 188.87M134.31 184.52L129.29 187.42M134.31 187.42L129.29 184.52" stroke="#8b008b" stroke-width="0.85" fill="none"/>
<path d="M133.05 180.62L133.05 186.42M135.56 182.07L130.54 184.97M135.56 184.97L130.54 182.07" stroke="#8b008b" stroke-width="0.85" fill="none"/>
<path d="M134.30 178.41L134.30 184.21M136.81 179.86L131.79 182.76M136.81 182.76L131.79 179.86" stroke="#8b008b" stroke-width="0.85" fill="none"/>
<path d="M135.55 176.57L135.55 182.37M138.06 178.02L133.04 180.92M138.06 180.92L133.04 178.02" stroke="#8b008b" stroke-width="0.85" fill="none"/>
<path d="M136.80 175.75L136.80 181.55M139.31 177.20L134.29 180.10M139.31 180.10L134.29 177.20" stroke="#8b008b" stroke-width="0.85" fill="none"/>
<path d="M138.05 175.02L138.05 180.82M140.56 176.47L135.54 179.37M140.56 179.37L135.54 176.47" stroke="#8b008b" stroke-width="0.85" fill="none"/>
<path d="M139.30 171.79L139.30 177.59M141.81 173.24L136.79 176.14M141.81 176.14L136.79 173.24" stroke="#8b008b" stroke-width="0.85" fill="none"/>
<path d="M140.55 171.23L140.55 177.03M143.06 172.68L138.04 175.58M143.06 175.58L138.04 172.68" stroke="#8b008b" stroke-width="0.85" fill="none"/>
<path d="M141.80 166.70L141.80 172.50M144.31 168.15L139.29 171.05M144.31 171.05L139.29 168.15" stroke="#8b008b" stroke-width="0.85" fill="none"/>
<path d="M143.05 164.84L143.05 170.64M145.56 166.29L140.54 169.19M145.56 169.19L140.54 166.29" stroke="#8b008b" stroke-width="0.85" fill="none"/>
<path d="M144.30 163.18L144.30 168.98M146.81 164.63L141.79 167.53M146.81 167.53L141.79 164.63" stroke="#8b008b" stroke-width="0.85" fill="none"/>
<path d="M145.55 164.36L145.55 170.16M148.06 165.81L143.04 168.71M148.06 168.71L143.04 165.81" stroke="#8b008b" stroke-width="0.85" fill="none"/>
<path d="M146.80 160.13L146.80 165.93M149.31 161.58L144.29 164.48M149.31 164.48L144.29 161.58" stroke="#8b008b" stroke-width="0.85" fill="none"/>
<path d="M148.05 160.43L148.05 166.23M150.56 161.88L145.54 164.78M150.56 164.78L145.54 161.88" stroke="#8b008b" stroke-width="0.85" fill="none"/>
<path d="M149.30 159.60L149.30 165.40M151.81 161.05L146.79 163.95M151.81 163.95L146.79 161.05" stroke="#8b008b" stroke-width="0.85" fill="none"/>
<path d="M150.55 155.45L150.55 161.25M153.06 156.90L148.04 159.80M153.06 159.80L148.04 156.90" stroke="#8b008b" stroke-width="0.85" fill="none"/>
<path d="M151.80 154.95L151.80 160.75M154.31 156.40L149.29 159.30M154.31 159.30L149.29 156.40" stroke="#8b008b" stroke-width="0.85" fill="none"/>
<path d="M153.05 156.11L153.05 161.91M155.56 157.56L150.54 160.46M155.56 160.46L150.54 157.56" stroke="#8b008b" stroke-width="0.85" fill="none"/>
<path d="M154.30 151.59L154.30 157.39M156.81 153.04L151.79 155.94M156.81 155.94L151.79 153.04" stroke="#8b008b" stroke-width="0.85" fill="none"/>
<path d="M155.55 151.80L155.55 157.60M158.06 153.25L153.04 156.15M158.06 156.15L153.04 153.25" stroke="#8b008b" stroke-width="0.85" fill="none"/>
<path d="M156.80 149.13L156.80 154.93M159.31 150.58L154.29 153.48M159.31 153.48L154.29 150.58" stroke="#8b008b" stroke-width="0.85" fill="none"/>
<path d="M158.05 149.76L158.05 155.56M160.56 151.21L155.54 154.11M160.56 154.11L155.54 151.21" stroke="#8b008b" stroke-width="0.85" fill="none"/>
<path d="M159.30 147.60L159.30 153.40M161.81 149.05L156.79 151.95M161.81 151.95L156.79 149.05" stroke="#8b008b" stroke-width="0.85" fill="none"/>
<path d="M160.55 144.05L160.55 149.85M163.06 145.50L158.04 148.40M163.06 148.40L158.04 145.50" stroke="#8b008b" stroke-width="0.85" fill="none"/>
<path d="M161.80 145.64L161.80 151.44M164.31 147.09L159.29 149.99M164.31 149.99L159.29 147.09" stroke="#8b008b" stroke-width="0.85" fill="none"/>
<path d="M163.05 142.57L163.05 148.37M165.56 144.02L160.54 146.92M165.56 146.92L160.54 144.02" stroke="#8b008b" stroke-width="0.85" fill="none"/>
<path d="M164.30 144.63L164.30 150.43M166.81 146.08L161.79 148.98M166.81 148.98L161.79 146.08" stroke="#8b008b" stroke-width="0.85" fill="none"/>
<path d="M165.55 141.07L165.55 146.87M168.06 142.52L163.04 145.42M168.06 145.42L163.04 142.52" stroke="#8b008b" stroke-width="0.85" fill="none"/>
<path d="M166.80 139.96L166.80 145.76M169.31 141.41L164.29 144.31M169.31 144.31L164.29 141.41" stroke="#8b008b" stroke-width="0.85" fill="none"/>
<path d="M168.05 140.01L168.05 145.81M170.56 141.46L165.54 144.36M170.56 144.36L165.54 141.46" stroke="#8b008b" stroke-width="0.85" fill="none"/>
<path d="M169.30 139.75L169.30 145.55M171.81 141.20L166.79 144.10M171.81 144.10L166.79 141.20" stroke="#8b008b" stroke-width="0.85" fill="none"/>
<path d="M170.55 140.47L170.55 146.27M173.06 141.92L168.04 144.82M173.06 144.82L168.04 141.92" stroke="#8b008b" stroke-width="0.85" fill="none"/>
<path d="M171.80 137.16L171.80 142.96M174.31 138.61L169.29 141.51M174.31 141.51L169.29 138.61" stroke="#8b008b" stroke-width="0.85" fill="none"/>
<path d="M173.05 138.24L173.05 144.04M175.56 139.69L170.54 142.59M175.56 142.59L170.54 139.69" stroke="#8b008b" stroke-width="0.85" fill="none"/>
<path d="M174.30 135.71L174.30 141.51M176.81 137.16L171.79 140.06M176.81 140.06L171.79 137.16" stroke="#8b008b" stroke-width="0.85" fill="none"/>
<path d="M175.55 137.58L175.55 143.38M178.06 139.03L173.04 141.93M178.06 141.93L173.04 139.03" stroke="#8b008b" stroke-width="0.85" fill="none"/>
<path d="M176.80 134.68L176.80 140.48M179.31 136.13L174.29 139.03M179.31 139.03L174.29 136.13" stroke="#8b008b" stroke-width="0.85" fill="none"/>
<path d="M178.05 136.49L178.05 142.29M180.56 137.94L175.54 140.84M180.56 140.84L175.54 137.94" stroke="#8b008b" stroke-width="0.85" fill="none"/>
<path d="M179.30 133.85L179.30 139.65M181.81 135.30L176.79 138.20M181.81 138.20L176.79 135.30" stroke="#8b008b" stroke-width="0.85" fill="none"/>
<path d="M180.55 133.34L180.55 139.14M183.06 134.79L178.04 137.69M183.06 137.69L178.04 134.79" stroke="#8b008b" stroke-width="0.85" fill="none"/>
<path d="M181.80 134.63L181.80 140.43M184.31 136.08L179.29 138.98M184.31 138.98L179.29 136.08" stroke="#8b008b" stroke-width="0.85" fill="none"/>
<path d="M183.05 134.87L183.05 140.67M185.56 136.32L180.54 139.22M185.56 139.22L180.54 136.32" stroke="#8b008b" stroke-width="0.85" fill="none"/>
<path d="M184.30 133.57L184.30 139.37M186.81 135.02L181.79 137.92M186.81 137.92L181.79 135.02" stroke="#8b008b" stroke-width="0.85" fill="none"/>
<path d="M185.55 134.45L185.55 140.25M188.06 135.90L183.04 138.80M188.06 138.80L183.04 135.90" stroke="#8b008b" stroke-width="0.85" fill="none"/>
<path d="M186.80 132.62L186.80 138.42M189.31 134.07L184.29 136.97M189.31 136.97L184.29 134.07" stroke="#8b008b" stroke-width="0.85" fill="none"/>
<path d="M188.05 132.38L188.05 138.18M190.56 133.83L185.54 136.73M190.56 136.73L185.54 133.83" stroke="#8b008b" stroke-width="0.85" fill="none"/>
<path d="M189.30 133.56L189.30 139.36M191.81 135.01L186.79 137.91M191.81 137.91L186.79 135.01" stroke="#8b008b" stroke-width="0.85" fill="none"/>
<path d="M190.55 135.49L190.55 141.29M193.06 136.94L188.04 139.84M193.06 139.84L188.04 136.94" stroke="#8b008b" stroke-width="0.85" fill="none"/>
<path d="M191.80 134.60L191.80 140.40M194.31 136.05L189.29 138.95M194.31 138.95L189.29 136.05" stroke="#8b008b" stroke-width="0.85" fill="none"/>
<path d="M193.05 134.17L193.05 139.97M195.56 135.62L190.54 138.52M195.56 138.52L190.54 135.62" stroke="#8b008b" stroke-width="0.85" fill="none"/>
<path d="M194.30 133.96L194.30 139.76M196.81 135.41L191.79 138.31M196.81 138.31L191.79 135.41" stroke="#8b008b" stroke-width="0.85" fill="none"/>
<path d="M195.55 136.08L195.55 141.88M198.06 137.53L193.04 140.43M198.06 140.43L193.04 137.53" stroke="#8b008b" stroke-width="0.85" fill="none"/>
<path d="M196.80 134.08L196.80 139.88M199.31 135.53L194.29 138.43M199.31 138.43L194.29 135.53" stroke="#8b008b" stroke-width="0.85" fill="none"/>
<path d="M198.05 137.05L198.05 142.85M200.56 138.50L195.54 141.40M200.56 141.40L195.54 138.50" stroke="#8b008b" stroke-width="0.85" fill="none"/>
<path d="M199.30 136.24L199.30 142.04M201.81 137.69L196.79 140.59M201.81 140.59L196.79 137.69" stroke="#8b008b" stroke-width="0.85" fill="none"/>
<path d="M200.55 134.55L200.55 140.35M203.06 136.00L198.04 138.90M203.06 138.90L198.04 136.00" stroke="#8b008b" stroke-width="0.85" fill="none"/>
<path d="M201.80 133.69L201.80 139.49M204.31 135.14L199.29 138.04M204.31 138.04L199.29 135.14" stroke="#8b008b" stroke-width="0.85" fill="none"/>
<path d="M203.05 134.41L203.05 140.21M205.56 135.86L200.54 138.76M205.56 138.76L200.54 135.86" stroke="#8b008b" stroke-width="0.85" fill="none"/>
<path d="M204.30 132.66L204.30 138.46M206.81 134.11L201.79 137.01M206.81 137.01L201.79 134.11" stroke="#8b008b" stroke-width="0.85" fill="none"/>
<path d="M205.55 133.98L205.55 139.78M208.06 135.43L203.04 138.33M208.06 138.33L203.04 135.43" stroke="#8b008b" stroke-width="0.85" fill="none"/>
<path d="M206.80 132.64L206.80 138.44M209.31 134.09L204.29 136.99M209.31 136.99L204.29 134.09" stroke="#8b008b" stroke-width="0.85" fill="none"/>
<path d="M208.05 131.44L208.05 137.24M210.56 132.89L205.54 135.79M210.56 135.79L205.54 132.89" stroke="#8b008b" stroke-width="0.85" fill="none"/>
<path d="M209.30 132.13L209.30 137.93M211.81 133.58L206.79 136.48M211.81 136.48L206.79 133.58" stroke="#8b008b" stroke-width="0.85" fill="none"/>
<path d="M210.55 133.50L210.55 139.30M213.06 134.95L208.04 137.85M213.06 137.85L208.04 134.95" stroke="#8b008b" stroke-width="0.85" fill="none"/>
<path d="M211.80 133.44L211.80 139.24M214.31 134.89L209.29 137.79M214.31 137.79L209.29 134.89" stroke="#8b008b" stroke-width="0.85" fill="none"/>
<path d="M213.05 137.15L213.05 142.95M215.56 138.60L210.54 141.50M215.56 141.50L210.54 138.60" stroke="#8b008b" stroke-width="0.85" fill="none"/>
<path d="M214.30 135.31L214.30 141.11M216.81 136.76L211.79 139.66M216.81 139.66L211.79 136.76" stroke="#8b008b" stroke-width="0.85" fill="none"/>
<path d="M215.55 135.87L215.55 141.67M218.06 137.32L213.04 140.22M218.06 140.22L213.04 137.32" stroke="#8b008b" stroke-width="0.85" fill="none"/>
<path d="M216.80 135.85L216.80 141.65M219.31 137.30L214.29 140.20M219.31 140.20L214.29 137.30" stroke="#8b008b" stroke-width="0.85" fill="none"/>
<path d="M218.05 136.63L218.05 142.43M220.56 138.08L215.54 140.98M220.56 140.98L215.54 138.08" stroke="#8b008b" stroke-width="0.85" fill="none"/>
<path d="M219.30 139.80L219.30 145.60M221.81 141.25L216.79 144.15M221.81 144.15L216.79 141.25" stroke="#8b008b" stroke-width="0.85" fill="none"/>
<path d="M220.55 137.22L220.55 143.02M223.06 138.67L218.04 141.57M223.06 141.57L218.04 138.67" stroke="#8b008b" stroke-width="0.85" fill="none"/>
<path d="M107.20 224.44V260.03M104.80 224.44h4.80M104.80 260.03h4.80" stroke="#8b008b" stroke-width="0.80" fill="none"/>
<path d="M108.70 222.81V265.77M106.30 222.81h4.80M106.30 265.77h4.80" stroke="#8b008b" stroke-width="0.80" fill="none"/>
<path d="M110.20 221.63V233.66M107.80 221.63h4.80M107.80 233.66h4.80" stroke="#8b008b" stroke-width="0.80" fill="none"/>
<path d="M111.70 220.12V230.70M109.30 220.12h4.80M109.30 230.70h4.80" stroke="#8b008b" stroke-width="0.80" fill="none"/>
<path d="M113.20 219.89V227.30M110.80 219.89h4.80M110.80 227.30h4.80" stroke="#8b008b" stroke-width="0.80" fill="none"/>
<path d="M114.70 218.46V224.40M112.30 218.46h4.80M112.30 224.40h4.80" stroke="#8b008b" stroke-width="0.80" fill="none"/>
<path d="M116.20 216.42V223.18M113.80 216.42h4.80M113.80 223.18h4.80" stroke="#8b008b" stroke-width="0.80" fill="none"/>
<path d="M117.70 214.29V222.20M115.30 214.29h4.80M115.30 222.20h4.80" stroke="#8b008b" stroke-width="0.80" fill="none"/>
<path d="M119.20 213.15V219.08M116.80 213.15h4.80M116.80 219.08h4.80" stroke="#8b008b" stroke-width="0.80" fill="none"/>
<path d="M120.70 210.12V216.67M118.30 210.12h4.80M118.30 216.67h4.80" stroke="#8b008b" stroke-width="0.80" fill="none"/>
<path d="M122.20 207.17V212.19M119.80 207.17h4.80M119.80 212.19h4.80" stroke="#8b008b" stroke-width="0.80" fill="none"/>
<path d="M123.70 206.68V211.22M121.30 206.68h4.80M121.30 211.22h4.80" stroke="#8b008b" stroke-width="0.80" fill="none"/>
<path d="M125.20 202.61V208.51M122.80 202.61h4.80M122.80 208.51h4.80" stroke="#8b008b" stroke-width="0.80" fill="none"/>
<path d="M126.70 198.75V203.07M124.30 198.75h4.80M124.30 203.07h4.80" stroke="#8b008b" stroke-width="0.80" fill="none"/>
<path d="M127.90 199.75V203.68M125.50 199.75h4.80M125.50 203.68h4.80" stroke="#8b008b" stroke-width="0.80" fill="none"/>
<path d="M129.10 197.18V201.45M126.70 197.18h4.80M126.70 201.45h4.80" stroke="#8b008b" stroke-width="0.80" fill="none"/>
<path d="M130.30 193.63V197.38M127.90 193.63h4.80M127.90 197.38h4.80" stroke="#8b008b" stroke-width="0.80" fill="none"/>
<path d="M131.50 192.61V196.93M129.10 192.61h4.80M129.10 196.93h4.80" stroke="#8b008b" stroke-width="0.80" fill="none"/>
<path d="M132.70 191.67V195.97M130.30 191.67h4.80M130.30 195.97h4.80" stroke="#8b008b" stroke-width="0.80" fill="none"/>
<path d="M133.90 188.99V193.42M131.50 188.99h4.80M131.50 193.42h4.80" stroke="#8b008b" stroke-width="0.80" fill="none"/>
<path d="M135.10 187.57V191.63M132.70 187.57h4.80M132.70 191.63h4.80" stroke="#8b008b" stroke-width="0.80" fill="none"/>
<path d="M136.30 184.92V187.75M133.90 184.92h4.80M133.90 187.75h4.80" stroke="#8b008b" stroke-width="0.80" fill="none"/>
<path d="M137.50 182.56V186.00M135.10 182.56h4.80M135.10 186.00h4.80" stroke="#8b008b" stroke-width="0.80" fill="none"/>
<path d="M138.70 181.10V183.67M136.30 181.10h4.80M136.30 183.67h4.80" stroke="#8b008b" stroke-width="0.80" fill="none"/>
<path d="M139.90 180.91V183.25M137.50 180.91h4.80M137.50 183.25h4.80" stroke="#8b008b" stroke-width="0.80" fill="none"/>
<path d="M141.10 179.54V181.94M138.70 179.54h4.80M138.70 181.94h4.80" stroke="#8b008b" stroke-width="0.80" fill="none"/>
<path d="M142.10 178.19V179.85" stroke="#8b008b" stroke-width="0.80" fill="none"/>
<path d="M143.10 177.49V179.96M140.70 177.49h4.80M140.70 179.96h4.80" stroke="#8b008b" stroke-width="0.80" fill="none"/>
<path d="M144.10 175.38V177.62M141.70 175.38h4.80M141.70 177.62h4.80" stroke="#8b008b" stroke-width="0.80" fill="none"/>
<path d="M145.10 174.85V176.58" stroke="#8b008b" stroke-width="0.80" fill="none"/>
<path d="M146.10 173.64V175.56" stroke="#8b008b" stroke-width="0.80" fill="none"/>
<path d="M147.10 170.02V171.96" stroke="#8b008b" stroke-width="0.80" fill="none"/>
<path d="M148.10 170.67V172.54" stroke="#8b008b" stroke-width="0.80" fill="none"/>
<path d="M149.10 168.79V171.51M146.70 168.79h4.80M146.70 171.51h4.80" stroke="#8b008b" stroke-width="0.80" fill="none"/>
<path d="M150.10 167.46V168.40" stroke="#8b008b" stroke-width="0.80" fill="none"/>
<path d="M151.10 166.42V167.51" stroke="#8b008b" stroke-width="0.80" fill="none"/>
<path d="M152.10 166.43V167.49" stroke="#8b008b" stroke-width="0.80" fill="none"/>
<path d="M153.10 165.24V166.03" stroke="#8b008b" stroke-width="0.80" fill="none"/>
<path d="M154.10 162.69V163.57" stroke="#8b008b" stroke-width="0.80" fill="none"/>
<path d="M155.10 163.66V164.56" stroke="#8b008b" stroke-width="0.80" fill="none"/>
<path d="M156.10 162.24V163.00" stroke="#8b008b" stroke-width="0.80" fill="none"/>
<path d="M157.10 159.60V160.48" stroke="#8b008b" stroke-width="0.80" fill="none"/>
<path d="M158.10 160.49V161.58" stroke="#8b008b" stroke-width="0.80" fill="none"/>
<path d="M159.10 159.64V160.54" stroke="#8b008b" stroke-width="0.80" fill="none"/>
<path d="M160.10 158.13V159.11" stroke="#8b008b" stroke-width="0.80" fill="none"/>
<path d="M161.10 157.33V158.14" stroke="#8b008b" stroke-width="0.80" fill="none"/>
<path d="M162.10 158.06V158.91" stroke="#8b008b" stroke-width="0.80" fill="none"/>
<path d="M163.10 157.52V158.74" stroke="#8b008b" stroke-width="0.80" fill="none"/>
<path d="M164.10 153.95V154.93" stroke="#8b008b" stroke-width="0.80" fill="none"/>
<path d="M165.10 155.77V157.00" stroke="#8b008b" stroke-width="0.80" fill="none"/>
<path d="M166.10 154.14V155.02" stroke="#8b008b" stroke-width="0.80" fill="none"/>
<path d="M167.10 152.55V153.77" stroke="#8b008b" stroke-width="0.80" fill="none"/>
<path d="M168.10 151.97V153.01" stroke="#8b008b" stroke-width="0.80" fill="none"/>
<path d="M169.10 151.10V152.11" stroke="#8b008b" stroke-width="0.80" fill="none"/>
<path d="M170.10 153.12V153.94" stroke="#8b008b" stroke-width="0.80" fill="none"/>
<path d="M171.10 152.00V153.00" stroke="#8b008b" stroke-width="0.80" fill="none"/>
<path d="M172.10 151.66V152.76" stroke="#8b008b" stroke-width="0.80" fill="none"/>
<path d="M173.10 149.00V150.20" stroke="#8b008b" stroke-width="0.80" fill="none"/>
<path d="M174.10 149.53V150.29" stroke="#8b008b" stroke-width="0.80" fill="none"/>
<path d="M175.10 147.38V148.38" stroke="#8b008b" stroke-width="0.80" fill="none"/>
<path d="M176.10 148.54V149.44" stroke="#8b008b" stroke-width="0.80" fill="none"/>
<path d="M177.10 147.22V148.15" stroke="#8b008b" stroke-width="0.80" fill="none"/>
<path d="M178.10 147.34V148.51" stroke="#8b008b" stroke-width="0.80" fill="none"/>
<path d="M179.10 146.04V147.17" stroke="#8b008b" stroke-width="0.80" fill="none"/>
<path d="M180.10 148.57V149.38" stroke="#8b008b" stroke-width="0.80" fill="none"/>
<path d="M181.10 148.40V149.51" stroke="#8b008b" stroke-width="0.80" fill="none"/>
<path d="M182.10 148.33V149.23" stroke="#8b008b" stroke-width="0.80" fill="none"/>
<path d="M183.10 146.52V147.47" stroke="#8b008b" stroke-width="0.80" fill="none"/>
<path d="M184.10 148.38V149.43" stroke="#8b008b" stroke-width="0.80" fill="none"/>
<path d="M185.10 145.90V146.86" stroke="#8b008b" stroke-width="0.80" fill="none"/>
<path d="M186.10 145.39V146.16" stroke="#8b008b" stroke-width="0.80" fill="none"/>
<path d="M187.10 144.05V145.22" stroke="#8b008b" stroke-width="0.80" fill="none"/>
<path d="M188.10 145.19V146.41" stroke="#8b008b" stroke-width="0.80" fill="none"/>
<path d="M189.10 145.27V146.15" stroke="#8b008b" stroke-width="0.80" fill="none"/>
<path d="M190.10 146.98V147.83" stroke="#8b008b" stroke-width="0.80" fill="none"/>
<path d="M191.10 146.09V147.32" stroke="#8b008b" stroke-width="0.80" fill="none"/>
<path d="M192.10 149.71V150.87" stroke="#8b008b" stroke-width="0.80" fill="none"/>
<path d="M193.10 148.86V150.07" stroke="#8b008b" stroke-width="0.80" fill="none"/>
<path d="M194.10 151.51V152.53" stroke="#8b008b" stroke-width="0.80" fill="none"/>
<path d="M195.10 150.96V151.73" stroke="#8b008b" stroke-width="0.80" fill="none"/>
<path d="M196.10 151.20V152.18" stroke="#8b008b" stroke-width="0.80" fill="none"/>
<path d="M197.10 151.55V152.62" stroke="#8b008b" stroke-width="0.80" fill="none"/>
<path d="M198.10 148.92V149.70" stroke="#8b008b" stroke-width="0.80" fill="none"/>
<path d="M199.10 152.53V153.34" stroke="#8b008b" stroke-width="0.80" fill="none"/>
<path d="M200.10 149.46V150.39" stroke="#8b008b" stroke-width="0.80" fill="none"/>
<path d="M201.10 147.78V148.90" stroke="#8b008b" stroke-width="0.80" fill="none"/>
<path d="M202.10 151.44V152.32" stroke="#8b008b" stroke-width="0.80" fill="none"/>
<path d="M203.10 148.97V149.87" stroke="#8b008b" stroke-width="0.80" fill="none"/>
<path d="M204.10 147.84V148.79" stroke="#8b008b" stroke-width="0.80" fill="none"/>
<path d="M205.10 145.25V146.08" stroke="#8b008b" stroke-width="0.80" fill="none"/>
<path d="M206.10 145.01V146.21" stroke="#8b008b" stroke-width="0.80" fill="none"/>
<path d="M207.10 146.61V147.47" stroke="#8b008b" stroke-width="0.80" fill="none"/>
<path d="M208.10 148.56V149.81" stroke="#8b008b" stroke-width="0.80" fill="none"/>
<path d="M209.10 145.73V146.55" stroke="#8b008b" stroke-width="0.80" fill="none"/>
<path d="M210.10 144.06V144.85" stroke="#8b008b" stroke-width="0.80" fill="none"/>
<path d="M211.10 145.47V146.26" stroke="#8b008b" stroke-width="0.80" fill="none"/>
<path d="M212.10 145.32V146.20" stroke="#8b008b" stroke-width="0.80" fill="none"/>
<path d="M213.10 147.66V148.85" stroke="#8b008b" stroke-width="0.80" fill="none"/>
<path d="M214.10 149.37V150.33" stroke="#8b008b" stroke-width="0.80" fill="none"/>
<path d="M215.10 147.83V148.84" stroke="#8b008b" stroke-width="0.80" fill="none"/>
<path d="M216.10 148.15V149.07" stroke="#8b008b" stroke-width="0.80" fill="none"/>
<path d="M217.10 146.78V147.67" stroke="#8b008b" stroke-width="0.80" fill="none"/>
<path d="M218.10 152.69V153.50" stroke="#8b008b" stroke-width="0.80" fill="none"/>
<path d="M219.10 149.63V150.70" stroke="#8b008b" stroke-width="0.80" fill="none"/>
<path d="M220.10 151.75V152.61" stroke="#8b008b" stroke-width="0.80" fill="none"/>
<path d="M221.10 148.05V148.92" stroke="#8b008b" stroke-width="0.80" fill="none"/>
<path d="M107.20 227.07C108.46 228.75 110.00 229.73 110.00 230.99C110.00 232.39 108.04 232.53 107.54 231.27L108.32 232.95L106.08 232.95L106.86 231.27C106.36 232.53 104.40 232.39 104.40 230.99C104.40 229.73 105.94 228.75 107.20 227.07Z" fill="#8b008b"/>
<path d="M108.70 225.79C109.96 227.47 111.50 228.45 111.50 229.71C111.50 231.11 109.54 231.25 109.04 229.99L109.82 231.67L107.58 231.67L108.36 229.99C107.86 231.25 105.90 231.11 105.90 229.71C105.90 228.45 107.44 227.47 108.70 225.79Z" fill="#8b008b"/>
<path d="M110.20 223.70C111.46 225.38 113.00 226.36 113.00 227.62C113.00 229.02 111.04 229.16 110.54 227.90L111.32 229.58L109.08 229.58L109.86 227.90C109.36 229.16 107.40 229.02 107.40 227.62C107.40 226.36 108.94 225.38 110.20 223.70Z" fill="#8b008b"/>
<path d="M111.70 221.59C112.96 223.27 114.50 224.25 114.50 225.51C114.50 226.91 112.54 227.05 112.04 225.79L112.82 227.47L110.58 227.47L111.36 225.79C110.86 227.05 108.90 226.91 108.90 225.51C108.90 224.25 110.44 223.27 111.70 221.59Z" fill="#8b008b"/>
<path d="M113.20 220.37C114.46 222.05 116.00 223.03 116.00 224.29C116.00 225.69 114.04 225.83 113.54 224.57L114.32 226.25L112.08 226.25L112.86 224.57C112.36 225.83 110.40 225.69 110.40 224.29C110.40 223.03 111.94 222.05 113.20 220.37Z" fill="#8b008b"/>
<path d="M114.70 218.26C115.96 219.94 117.50 220.92 117.50 222.18C117.50 223.58 115.54 223.72 115.04 222.46L115.82 224.14L113.58 224.14L114.36 222.46C113.86 223.72 111.90 223.58 111.90 222.18C111.90 220.92 113.44 219.94 114.70 218.26Z" fill="#8b008b"/>
<path d="M116.20 216.60C117.46 218.28 119.00 219.26 119.00 220.52C119.00 221.92 117.04 222.06 116.54 220.80L117.32 222.48L115.08 222.48L115.86 220.80C115.36 222.06 113.40 221.92 113.40 220.52C113.40 219.26 114.94 218.28 116.20 216.60Z" fill="#8b008b"/>
<path d="M117.70 215.00C118.96 216.68 120.50 217.66 120.50 218.92C120.50 220.32 118.54 220.46 118.04 219.20L118.82 220.88L116.58 220.88L117.36 219.20C116.86 220.46 114.90 220.32 114.90 218.92C114.90 217.66 116.44 216.68 117.70 215.00Z" fill="#8b008b"/>
<path d="M119.20 213.01C120.46 214.69 122.00 215.67 122.00 216.93C122.00 218.33 120.04 218.47 119.54 217.21L120.32 218.89L118.08 218.89L118.86 217.21C118.36 218.47 116.40 218.33 116.40 216.93C116.40 215.67 117.94 214.69 119.20 213.01Z" fill="#8b008b"/>
<path d="M120.70 210.28C121.96 211.96 123.50 212.94 123.50 214.20C123.50 215.60 121.54 215.74 121.04 214.48L121.82 216.16L119.58 216.16L120.36 214.48C119.86 215.74 117.90 215.60 117.90 214.20C117.90 212.94 119.44 211.96 120.70 210.28Z" fill="#8b008b"/>
<path d="M122.20 206.61C123.46 208.29 125.00 209.27 125.00 210.53C125.00 211.93 123.04 212.07 122.54 210.81L123.32 212.49L121.08 212.49L121.86 210.81C121.36 212.07 119.40 211.93 119.40 210.53C119.40 209.27 120.94 208.29 122.20 206.61Z" fill="#8b008b"/>
<path d="M123.70 205.89C124.96 207.57 126.50 208.55 126.50 209.81C126.50 211.21 124.54 211.35 124.04 210.09L124.82 211.77L122.58 211.77L123.36 210.09C122.86 211.35 120.90 211.21 120.90 209.81C120.90 208.55 122.44 207.57 123.70 205.89Z" fill="#8b008b"/>
<path d="M125.20 202.46C126.46 204.14 128.00 205.12 128.00 206.38C128.00 207.78 126.04 207.92 125.54 206.66L126.32 208.34L124.08 208.34L124.86 206.66C124.36 207.92 122.40 207.78 122.40 206.38C122.40 205.12 123.94 204.14 125.20 202.46Z" fill="#8b008b"/>
<path d="M126.70 197.91C127.96 199.59 129.50 200.57 129.50 201.83C129.50 203.23 127.54 203.37 127.04 202.11L127.82 203.79L125.58 203.79L126.36 202.11C125.86 203.37 123.90 203.23 123.90 201.83C123.90 200.57 125.44 199.59 126.70 197.91Z" fill="#8b008b"/>
<path d="M127.90 198.72C129.16 200.40 130.70 201.38 130.70 202.64C130.70 204.04 128.74 204.18 128.24 202.92L129.02 204.60L126.78 204.60L127.56 202.92C127.06 204.18 125.10 204.04 125.10 202.64C125.10 201.38 126.64 200.40 127.90 198.72Z" fill="#8b008b"/>
<path d="M129.10 196.32C130.36 198.00 131.90 198.98 131.90 200.24C131.90 201.64 129.94 201.78 129.44 200.52L130.22 202.20L127.98 202.20L128.76 200.52C128.26 201.78 126.30 201.64 126.30 200.24C126.30 198.98 127.84 198.00 129.10 196.32Z" fill="#8b008b"/>
<path d="M130.30 192.51C131.56 194.19 133.10 195.17 133.10 196.43C133.10 197.83 131.14 197.97 130.64 196.71L131.42 198.39L129.18 198.39L129.96 196.71C129.46 197.97 127.50 197.83 127.50 196.43C127.50 195.17 129.04 194.19 130.30 192.51Z" fill="#8b008b"/>
<path d="M131.50 191.78C132.76 193.46 134.30 194.44 134.30 195.70C134.30 197.10 132.34 197.24 131.84 195.98L132.62 197.66L130.38 197.66L131.16 195.98C130.66 197.24 128.70 197.10 128.70 195.70C128.70 194.44 130.24 193.46 131.50 191.78Z" fill="#8b008b"/>
<path d="M132.70 190.82C133.96 192.50 135.50 193.48 135.50 194.74C135.50 196.14 133.54 196.28 133.04 195.02L133.82 196.70L131.58 196.70L132.36 195.02C131.86 196.28 129.90 196.14 129.90 194.74C129.90 193.48 131.44 192.50 132.70 190.82Z" fill="#8b008b"/>
<path d="M133.90 188.20C135.16 189.88 136.70 190.86 136.70 192.12C136.70 193.52 134.74 193.66 134.24 192.40L135.02 194.08L132.78 194.08L133.56 192.40C133.06 193.66 131.10 193.52 131.10 192.12C131.10 190.86 132.64 189.88 133.90 188.20Z" fill="#8b008b"/>
<path d="M135.10 186.60C136.36 188.28 137.90 189.26 137.90 190.52C137.90 191.92 135.94 192.06 135.44 190.80L136.22 192.48L133.98 192.48L134.76 190.80C134.26 192.06 132.30 191.92 132.30 190.52C132.30 189.26 133.84 188.28 135.10 186.60Z" fill="#8b008b"/>
<path d="M136.30 183.36C137.56 185.04 139.10 186.02 139.10 187.28C139.10 188.68 137.14 188.82 136.64 187.56L137.42 189.24L135.18 189.24L135.96 187.56C135.46 188.82 133.50 188.68 133.50 187.28C133.50 186.02 135.04 185.04 136.30 183.36Z" fill="#8b008b"/>
<path d="M137.50 181.29C138.76 182.97 140.30 183.95 140.30 185.21C140.30 186.61 138.34 186.75 137.84 185.49L138.62 187.17L136.38 187.17L137.16 185.49C136.66 186.75 134.70 186.61 134.70 185.21C134.70 183.95 136.24 182.97 137.50 181.29Z" fill="#8b008b"/>
<path d="M138.70 179.45C139.96 181.13 141.50 182.11 141.50 183.37C141.50 184.77 139.54 184.91 139.04 183.65L139.82 185.33L137.58 185.33L138.36 183.65C137.86 184.91 135.90 184.77 135.90 183.37C135.90 182.11 137.44 181.13 138.70 179.45Z" fill="#8b008b"/>
<path d="M139.90 179.14C141.16 180.82 142.70 181.80 142.70 183.06C142.70 184.46 140.74 184.60 140.24 183.34L141.02 185.02L138.78 185.02L139.56 183.34C139.06 184.60 137.10 184.46 137.10 183.06C137.10 181.80 138.64 180.82 139.90 179.14Z" fill="#8b008b"/>
<path d="M141.10 177.80C142.36 179.48 143.90 180.46 143.90 181.72C143.90 183.12 141.94 183.26 141.44 182.00L142.22 183.68L139.98 183.68L140.76 182.00C140.26 183.26 138.30 183.12 138.30 181.72C138.30 180.46 139.84 179.48 141.10 177.80Z" fill="#8b008b"/>
<path d="M142.10 176.08C143.36 177.76 144.90 178.74 144.90 180.00C144.90 181.40 142.94 181.54 142.44 180.28L143.22 181.96L140.98 181.96L141.76 180.28C141.26 181.54 139.30 181.40 139.30 180.00C139.30 178.74 140.84 177.76 142.10 176.08Z" fill="#8b008b"/>
<path d="M143.10 175.79C144.36 177.47 145.90 178.45 145.90 179.71C145.90 181.11 143.94 181.25 143.44 179.99L144.22 181.67L141.98 181.67L142.76 179.99C142.26 181.25 140.30 181.11 140.30 179.71C140.30 178.45 141.84 177.47 143.10 175.79Z" fill="#8b008b"/>
<path d="M144.10 173.56C145.36 175.24 146.90 176.22 146.90 177.48C146.90 178.88 144.94 179.02 144.44 177.76L145.22 179.44L142.98 179.44L143.76 177.76C143.26 179.02 141.30 178.88 141.30 177.48C141.30 176.22 142.84 175.24 144.10 173.56Z" fill="#8b008b"/>
<path d="M145.10 172.78C146.36 174.46 147.90 175.44 147.90 176.70C147.90 178.10 145.94 178.24 145.44 176.98L146.22 178.66L143.98 178.66L144.76 176.98C144.26 178.24 142.30 178.10 142.30 176.70C142.30 175.44 143.84 174.46 145.10 172.78Z" fill="#8b008b"/>
<path d="M146.10 171.66C147.36 173.34 148.90 174.32 148.90 175.58C148.90 176.98 146.94 177.12 146.44 175.86L147.22 177.54L144.98 177.54L145.76 175.86C145.26 177.12 143.30 176.98 143.30 175.58C143.30 174.32 144.84 173.34 146.10 171.66Z" fill="#8b008b"/>
<path d="M147.10 168.05C148.36 169.73 149.90 170.71 149.90 171.97C149.90 173.37 147.94 173.51 147.44 172.25L148.22 173.93L145.98 173.93L146.76 172.25C146.26 173.51 144.30 173.37 144.30 171.97C144.30 170.71 145.84 169.73 147.10 168.05Z" fill="#8b008b"/>
<path d="M148.10 168.66C149.36 170.34 150.90 171.32 150.90 172.58C150.90 173.98 148.94 174.12 148.44 172.86L149.22 174.54L146.98 174.54L147.76 172.86C147.26 174.12 145.30 173.98 145.30 172.58C145.30 171.32 146.84 170.34 148.10 168.66Z" fill="#8b008b"/>
<path d="M149.10 167.21C150.36 168.89 151.90 169.87 151.90 171.13C151.90 172.53 149.94 172.67 149.44 171.41L150.22 173.09L147.98 173.09L148.76 171.41C148.26 172.67 146.30 172.53 146.30 171.13C146.30 169.87 147.84 168.89 149.10 167.21Z" fill="#8b008b"/>
<path d="M150.10 164.99C151.36 166.67 152.90 167.65 152.90 168.91C152.90 170.31 150.94 170.45 150.44 169.19L151.22 170.87L148.98 170.87L149.76 169.19C149.26 170.45 147.30 170.31 147.30 168.91C147.30 167.65 148.84 166.67 150.10 164.99Z" fill="#8b008b"/>
<path d="M151.10 164.02C152.36 165.70 153.90 166.68 153.90 167.94C153.90 169.34 151.94 169.48 151.44 168.22L152.22 169.90L149.98 169.90L150.76 168.22C150.26 169.48 148.30 169.34 148.30 167.94C148.30 166.68 149.84 165.70 151.10 164.02Z" fill="#8b008b"/>
<path d="M152.10 164.02C153.36 165.70 154.90 166.68 154.90 167.94C154.90 169.34 152.94 169.48 152.44 168.22L153.22 169.90L150.98 169.90L151.76 168.22C151.26 169.48 149.30 169.34 149.30 167.94C149.30 166.68 150.84 165.70 152.10 164.02Z" fill="#8b008b"/>
<path d="M153.10 162.70C154.36 164.38 155.90 165.36 155.90 166.62C155.90 168.02 153.94 168.16 153.44 166.90L154.22 168.58L151.98 168.58L152.76 166.90C152.26 168.16 150.30 168.02 150.30 166.62C150.30 165.36 151.84 164.38 153.10 162.70Z" fill="#8b008b"/>
<path d="M154.10 160.19C155.36 161.87 156.90 162.85 156.90 164.11C156.90 165.51 154.94 165.65 154.44 164.39L155.22 166.07L152.98 166.07L153.76 164.39C153.26 165.65 151.30 165.51 151.30 164.11C151.30 162.85 152.84 161.87 154.10 160.19Z" fill="#8b008b"/>
<path d="M155.10 161.17C156.36 162.85 157.90 163.83 157.90 165.09C157.90 166.49 155.94 166.63 155.44 165.37L156.22 167.05L153.98 167.05L154.76 165.37C154.26 166.63 152.30 166.49 152.30 165.09C152.30 163.83 153.84 162.85 155.10 161.17Z" fill="#8b008b"/>
<path d="M156.10 159.68C157.36 161.36 158.90 162.34 158.90 163.60C158.90 165.00 156.94 165.14 156.44 163.88L157.22 165.56L154.98 165.56L155.76 163.88C155.26 165.14 153.30 165.00 153.30 163.60C153.30 162.34 154.84 161.36 156.10 159.68Z" fill="#8b008b"/>
<path d="M157.10 157.10C158.36 158.78 159.90 159.76 159.90 161.02C159.90 162.42 157.94 162.56 157.44 161.30L158.22 162.98L155.98 162.98L156.76 161.30C156.26 162.56 154.30 162.42 154.30 161.02C154.30 159.76 155.84 158.78 157.10 157.10Z" fill="#8b008b"/>
<path d="M158.10 158.10C159.36 159.78 160.90 160.76 160.90 162.02C160.90 163.42 158.94 163.56 158.44 162.30L159.22 163.98L156.98 163.98L157.76 162.30C157.26 163.56 155.30 163.42 155.30 162.02C155.30 160.76 156.84 159.78 158.10 158.10Z" fill="#8b008b"/>
<path d="M159.10 157.15C160.36 158.83 161.90 159.81 161.90 161.07C161.90 162.47 159.94 162.61 159.44 161.35L160.22 163.03L157.98 163.03L158.76 161.35C158.26 162.61 156.30 162.47 156.30 161.07C156.30 159.81 157.84 158.83 159.10 157.15Z" fill="#8b008b"/>
<path d="M160.10 155.68C161.36 157.36 162.90 158.34 162.90 159.60C162.90 161.00 160.94 161.14 160.44 159.88L161.22 161.56L158.98 161.56L159.76 159.88C159.26 161.14 157.30 161.00 157.30 159.60C157.30 158.34 158.84 157.36 160.10 155.68Z" fill="#8b008b"/>
<path d="M161.10 154.80C162.36 156.48 163.90 157.46 163.90 158.72C163.90 160.12 161.94 160.26 161.44 159.00L162.22 160.68L159.98 160.68L160.76 159.00C160.26 160.26 158.30 160.12 158.30 158.72C158.30 157.46 159.84 156.48 161.10 154.80Z" fill="#8b008b"/>
<path d="M162.10 155.54C163.36 157.22 164.90 158.20 164.90 159.46C164.90 160.86 162.94 161.00 162.44 159.74L163.22 161.42L160.98 161.42L161.76 159.74C161.26 161.00 159.30 160.86 159.30 159.46C159.30 158.20 160.84 157.22 162.10 155.54Z" fill="#8b008b"/>
<path d="M163.10 155.19C164.36 156.87 165.90 157.85 165.90 159.11C165.90 160.51 163.94 160.65 163.44 159.39L164.22 161.07L161.98 161.07L162.76 159.39C162.26 160.65 160.30 160.51 160.30 159.11C160.30 157.85 161.84 156.87 163.10 155.19Z" fill="#8b008b"/>
<path d="M164.10 151.50C165.36 153.18 166.90 154.16 166.90 155.42C166.90 156.82 164.94 156.96 164.44 155.70L165.22 157.38L162.98 157.38L163.76 155.70C163.26 156.96 161.30 156.82 161.30 155.42C161.30 154.16 162.84 153.18 164.10 151.50Z" fill="#8b008b"/>
<path d="M165.10 153.45C166.36 155.13 167.90 156.11 167.90 157.37C167.90 158.77 165.94 158.91 165.44 157.65L166.22 159.33L163.98 159.33L164.76 157.65C164.26 158.91 162.30 158.77 162.30 157.37C162.30 156.11 163.84 155.13 165.10 153.45Z" fill="#8b008b"/>
<path d="M166.10 151.64C167.36 153.32 168.90 154.30 168.90 155.56C168.90 156.96 166.94 157.10 166.44 155.84L167.22 157.52L164.98 157.52L165.76 155.84C165.26 157.10 163.30 156.96 163.30 155.56C163.30 154.30 164.84 153.32 166.10 151.64Z" fill="#8b008b"/>
<path d="M167.10 150.22C168.36 151.90 169.90 152.88 169.90 154.14C169.90 155.54 167.94 155.68 167.44 154.42L168.22 156.10L165.98 156.10L166.76 154.42C166.26 155.68 164.30 155.54 164.30 154.14C164.30 152.88 165.84 151.90 167.10 150.22Z" fill="#8b008b"/>
<path d="M168.10 149.55C169.36 151.23 170.90 152.21 170.90 153.47C170.90 154.87 168.94 155.01 168.44 153.75L169.22 155.43L166.98 155.43L167.76 153.75C167.26 155.01 165.30 154.87 165.30 153.47C165.30 152.21 166.84 151.23 168.10 149.55Z" fill="#8b008b"/>
<path d="M169.10 148.66C170.36 150.34 171.90 151.32 171.90 152.58C171.90 153.98 169.94 154.12 169.44 152.86L170.22 154.54L167.98 154.54L168.76 152.86C168.26 154.12 166.30 153.98 166.30 152.58C166.30 151.32 167.84 150.34 169.10 148.66Z" fill="#8b008b"/>
<path d="M170.10 150.59C171.36 152.27 172.90 153.25 172.90 154.51C172.90 155.91 170.94 156.05 170.44 154.79L171.22 156.47L168.98 156.47L169.76 154.79C169.26 156.05 167.30 155.91 167.30 154.51C167.30 153.25 168.84 152.27 170.10 150.59Z" fill="#8b008b"/>
<path d="M171.10 149.56C172.36 151.24 173.90 152.22 173.90 153.48C173.90 154.88 171.94 155.02 171.44 153.76L172.22 155.44L169.98 155.44L170.76 153.76C170.26 155.02 168.30 154.88 168.30 153.48C168.30 152.22 169.84 151.24 171.10 149.56Z" fill="#8b008b"/>
<path d="M172.10 149.27C173.36 150.95 174.90 151.93 174.90 153.19C174.90 154.59 172.94 154.73 172.44 153.47L173.22 155.15L170.98 155.15L171.76 153.47C171.26 154.73 169.30 154.59 169.30 153.19C169.30 151.93 170.84 150.95 172.10 149.27Z" fill="#8b008b"/>
<path d="M173.10 146.66C174.36 148.34 175.90 149.32 175.90 150.58C175.90 151.98 173.94 152.12 173.44 150.86L174.22 152.54L171.98 152.54L172.76 150.86C172.26 152.12 170.30 151.98 170.30 150.58C170.30 149.32 171.84 148.34 173.10 146.66Z" fill="#8b008b"/>
<path d="M174.10 146.97C175.36 148.65 176.90 149.63 176.90 150.89C176.90 152.29 174.94 152.43 174.44 151.17L175.22 152.85L172.98 152.85L173.76 151.17C173.26 152.43 171.30 152.29 171.30 150.89C171.30 149.63 172.84 148.65 174.10 146.97Z" fill="#8b008b"/>
<path d="M175.10 144.94C176.36 146.62 177.90 147.60 177.90 148.86C177.90 150.26 175.94 150.40 175.44 149.14L176.22 150.82L173.98 150.82L174.76 149.14C174.26 150.40 172.30 150.26 172.30 148.86C172.30 147.60 173.84 146.62 175.10 144.94Z" fill="#8b008b"/>
<path d="M176.10 146.05C177.36 147.73 178.90 148.71 178.90 149.97C178.90 151.37 176.94 151.51 176.44 150.25L177.22 151.93L174.98 151.93L175.76 150.25C175.26 151.51 173.30 151.37 173.30 149.97C173.30 148.71 174.84 147.73 176.10 146.05Z" fill="#8b008b"/>
<path d="M177.10 144.75C178.36 146.43 179.90 147.41 179.90 148.67C179.90 150.07 177.94 150.21 177.44 148.95L178.22 150.63L175.98 150.63L176.76 148.95C176.26 150.21 174.30 150.07 174.30 148.67C174.30 147.41 175.84 146.43 177.10 144.75Z" fill="#8b008b"/>
<path d="M178.10 144.99C179.36 146.67 180.90 147.65 180.90 148.91C180.90 150.31 178.94 150.45 178.44 149.19L179.22 150.87L176.98 150.87L177.76 149.19C177.26 150.45 175.30 150.31 175.30 148.91C175.30 147.65 176.84 146.67 178.10 144.99Z" fill="#8b008b"/>
<path d="M179.10 143.67C180.36 145.35 181.90 146.33 181.90 147.59C181.90 148.99 179.94 149.13 179.44 147.87L180.22 149.55L177.98 149.55L178.76 147.87C178.26 149.13 176.30 148.99 176.30 147.59C176.30 146.33 177.84 145.35 179.10 143.67Z" fill="#8b008b"/>
<path d="M180.10 146.03C181.36 147.71 182.90 148.69 182.90 149.95C182.90 151.35 180.94 151.49 180.44 150.23L181.22 151.91L178.98 151.91L179.76 150.23C179.26 151.49 177.30 151.35 177.30 149.95C177.30 148.69 178.84 147.71 180.10 146.03Z" fill="#8b008b"/>
<path d="M181.10 146.02C182.36 147.70 183.90 148.68 183.90 149.94C183.90 151.34 181.94 151.48 181.44 150.22L182.22 151.90L179.98 151.90L180.76 150.22C180.26 151.48 178.30 151.34 178.30 149.94C178.30 148.68 179.84 147.70 181.10 146.02Z" fill="#8b008b"/>
<path d="M182.10 145.84C183.36 147.52 184.90 148.50 184.90 149.76C184.90 151.16 182.94 151.30 182.44 150.04L183.22 151.72L180.98 151.72L181.76 150.04C181.26 151.30 179.30 151.16 179.30 149.76C179.30 148.50 180.84 147.52 182.10 145.84Z" fill="#8b008b"/>
<path d="M183.10 144.05C184.36 145.73 185.90 146.71 185.90 147.97C185.90 149.37 183.94 149.51 183.44 148.25L184.22 149.93L181.98 149.93L182.76 148.25C182.26 149.51 180.30 149.37 180.30 147.97C180.30 146.71 181.84 145.73 183.10 144.05Z" fill="#8b008b"/>
<path d="M184.10 145.97C185.36 147.65 186.90 148.63 186.90 149.89C186.90 151.29 184.94 151.43 184.44 150.17L185.22 151.85L182.98 151.85L183.76 150.17C183.26 151.43 181.30 151.29 181.30 149.89C181.30 148.63 182.84 147.65 184.10 145.97Z" fill="#8b008b"/>
<path d="M185.10 143.44C186.36 145.12 187.90 146.10 187.90 147.36C187.90 148.76 185.94 148.90 185.44 147.64L186.22 149.32L183.98 149.32L184.76 147.64C184.26 148.90 182.30 148.76 182.30 147.36C182.30 146.10 183.84 145.12 185.10 143.44Z" fill="#8b008b"/>
<path d="M186.10 142.83C187.36 144.51 188.90 145.49 188.90 146.75C188.90 148.15 186.94 148.29 186.44 147.03L187.22 148.71L184.98 148.71L185.76 147.03C185.26 148.29 183.30 148.15 183.30 146.75C183.30 145.49 184.84 144.51 186.10 142.83Z" fill="#8b008b"/>
<path d="M187.10 141.70C188.36 143.38 189.90 144.36 189.90 145.62C189.90 147.02 187.94 147.16 187.44 145.90L188.22 147.58L185.98 147.58L186.76 145.90C186.26 147.16 184.30 147.02 184.30 145.62C184.30 144.36 185.84 143.38 187.10 141.70Z" fill="#8b008b"/>
<path d="M188.10 142.86C189.36 144.54 190.90 145.52 190.90 146.78C190.90 148.18 188.94 148.32 188.44 147.06L189.22 148.74L186.98 148.74L187.76 147.06C187.26 148.32 185.30 148.18 185.30 146.78C185.30 145.52 186.84 144.54 188.10 142.86Z" fill="#8b008b"/>
<path d="M189.10 142.77C190.36 144.45 191.90 145.43 191.90 146.69C191.90 148.09 189.94 148.23 189.44 146.97L190.22 148.65L187.98 148.65L188.76 146.97C188.26 148.23 186.30 148.09 186.30 146.69C186.30 145.43 187.84 144.45 189.10 142.77Z" fill="#8b008b"/>
<path d="M190.10 144.46C191.36 146.14 192.90 147.12 192.90 148.38C192.90 149.78 190.94 149.92 190.44 148.66L191.22 150.34L188.98 150.34L189.76 148.66C189.26 149.92 187.30 149.78 187.30 148.38C187.30 147.12 188.84 146.14 190.10 144.46Z" fill="#8b008b"/>
<path d="M191.10 143.76C192.36 145.44 193.90 146.42 193.90 147.68C193.90 149.08 191.94 149.22 191.44 147.96L192.22 149.64L189.98 149.64L190.76 147.96C190.26 149.22 188.30 149.08 188.30 147.68C188.30 146.42 189.84 145.44 191.10 143.76Z" fill="#8b008b"/>
<path d="M192.10 147.35C193.36 149.03 194.90 150.01 194.90 151.27C194.90 152.67 192.94 152.81 192.44 151.55L193.22 153.23L190.98 153.23L191.76 151.55C191.26 152.81 189.30 152.67 189.30 151.27C189.30 150.01 190.84 149.03 192.10 147.35Z" fill="#8b008b"/>
<path d="M193.10 146.53C194.36 148.21 195.90 149.19 195.90 150.45C195.90 151.85 193.94 151.99 193.44 150.73L194.22 152.41L191.98 152.41L192.76 150.73C192.26 151.99 190.30 151.85 190.30 150.45C190.30 149.19 191.84 148.21 193.10 146.53Z" fill="#8b008b"/>
<path d="M194.10 149.08C195.36 150.76 196.90 151.74 196.90 153.00C196.90 154.40 194.94 154.54 194.44 153.28L195.22 154.96L192.98 154.96L193.76 153.28C193.26 154.54 191.30 154.40 191.30 153.00C191.30 151.74 192.84 150.76 194.10 149.08Z" fill="#8b008b"/>
<path d="M195.10 148.40C196.36 150.08 197.90 151.06 197.90 152.32C197.90 153.72 195.94 153.86 195.44 152.60L196.22 154.28L193.98 154.28L194.76 152.60C194.26 153.86 192.30 153.72 192.30 152.32C192.30 151.06 193.84 150.08 195.10 148.40Z" fill="#8b008b"/>
<path d="M196.10 148.75C197.36 150.43 198.90 151.41 198.90 152.67C198.90 154.07 196.94 154.21 196.44 152.95L197.22 154.63L194.98 154.63L195.76 152.95C195.26 154.21 193.30 154.07 193.30 152.67C193.30 151.41 194.84 150.43 196.10 148.75Z" fill="#8b008b"/>
<path d="M197.10 149.14C198.36 150.82 199.90 151.80 199.90 153.06C199.90 154.46 197.94 154.60 197.44 153.34L198.22 155.02L195.98 155.02L196.76 153.34C196.26 154.60 194.30 154.46 194.30 153.06C194.30 151.80 195.84 150.82 197.10 149.14Z" fill="#8b008b"/>
<path d="M198.10 146.37C199.36 148.05 200.90 149.03 200.90 150.29C200.90 151.69 198.94 151.83 198.44 150.57L199.22 152.25L196.98 152.25L197.76 150.57C197.26 151.83 195.30 151.69 195.30 150.29C195.30 149.03 196.84 148.05 198.10 146.37Z" fill="#8b008b"/>
<path d="M199.10 149.99C200.36 151.67 201.90 152.65 201.90 153.91C201.90 155.31 199.94 155.45 199.44 154.19L200.22 155.87L197.98 155.87L198.76 154.19C198.26 155.45 196.30 155.31 196.30 153.91C196.30 152.65 197.84 151.67 199.10 149.99Z" fill="#8b008b"/>
<path d="M200.10 146.99C201.36 148.67 202.90 149.65 202.90 150.91C202.90 152.31 200.94 152.45 200.44 151.19L201.22 152.87L198.98 152.87L199.76 151.19C199.26 152.45 197.30 152.31 197.30 150.91C197.30 149.65 198.84 148.67 200.10 146.99Z" fill="#8b008b"/>
<path d="M201.10 145.40C202.36 147.08 203.90 148.06 203.90 149.32C203.90 150.72 201.94 150.86 201.44 149.60L202.22 151.28L199.98 151.28L200.76 149.60C200.26 150.86 198.30 150.72 198.30 149.32C198.30 148.06 199.84 147.08 201.10 145.40Z" fill="#8b008b"/>
<path d="M202.10 148.94C203.36 150.62 204.90 151.60 204.90 152.86C204.90 154.26 202.94 154.40 202.44 153.14L203.22 154.82L200.98 154.82L201.76 153.14C201.26 154.40 199.30 154.26 199.30 152.86C199.30 151.60 200.84 150.62 202.10 148.94Z" fill="#8b008b"/>
<path d="M203.10 146.48C204.36 148.16 205.90 149.14 205.90 150.40C205.90 151.80 203.94 151.94 203.44 150.68L204.22 152.36L201.98 152.36L202.76 150.68C202.26 151.94 200.30 151.80 200.30 150.40C200.30 149.14 201.84 148.16 203.10 146.48Z" fill="#8b008b"/>
<path d="M204.10 145.37C205.36 147.05 206.90 148.03 206.90 149.29C206.90 150.69 204.94 150.83 204.44 149.57L205.22 151.25L202.98 151.25L203.76 149.57C203.26 150.83 201.30 150.69 201.30 149.29C201.30 148.03 202.84 147.05 204.10 145.37Z" fill="#8b008b"/>
<path d="M205.10 142.73C206.36 144.41 207.90 145.39 207.90 146.65C207.90 148.05 205.94 148.19 205.44 146.93L206.22 148.61L203.98 148.61L204.76 146.93C204.26 148.19 202.30 148.05 202.30 146.65C202.30 145.39 203.84 144.41 205.10 142.73Z" fill="#8b008b"/>
<path d="M206.10 142.67C207.36 144.35 208.90 145.33 208.90 146.59C208.90 147.99 206.94 148.13 206.44 146.87L207.22 148.55L204.98 148.55L205.76 146.87C205.26 148.13 203.30 147.99 203.30 146.59C203.30 145.33 204.84 144.35 206.10 142.67Z" fill="#8b008b"/>
<path d="M207.10 144.10C208.36 145.78 209.90 146.76 209.90 148.02C209.90 149.42 207.94 149.56 207.44 148.30L208.22 149.98L205.98 149.98L206.76 148.30C206.26 149.56 204.30 149.42 204.30 148.02C204.30 146.76 205.84 145.78 207.10 144.10Z" fill="#8b008b"/>
<path d="M208.10 146.25C209.36 147.93 210.90 148.91 210.90 150.17C210.90 151.57 208.94 151.71 208.44 150.45L209.22 152.13L206.98 152.13L207.76 150.45C207.26 151.71 205.30 151.57 205.30 150.17C205.30 148.91 206.84 147.93 208.10 146.25Z" fill="#8b008b"/>
<path d="M209.10 143.20C210.36 144.88 211.90 145.86 211.90 147.12C211.90 148.52 209.94 148.66 209.44 147.40L210.22 149.08L207.98 149.08L208.76 147.40C208.26 148.66 206.30 148.52 206.30 147.12C206.30 145.86 207.84 144.88 209.10 143.20Z" fill="#8b008b"/>
<path d="M210.10 141.52C211.36 143.20 212.90 144.18 212.90 145.44C212.90 146.84 210.94 146.98 210.44 145.72L211.22 147.40L208.98 147.40L209.76 145.72C209.26 146.98 207.30 146.84 207.30 145.44C207.30 144.18 208.84 143.20 210.10 141.52Z" fill="#8b008b"/>
<path d="M211.10 142.93C212.36 144.61 213.90 145.59 213.90 146.85C213.90 148.25 211.94 148.39 211.44 147.13L212.22 148.81L209.98 148.81L210.76 147.13C210.26 148.39 208.30 148.25 208.30 146.85C208.30 145.59 209.84 144.61 211.10 142.93Z" fill="#8b008b"/>
<path d="M212.10 142.82C213.36 144.50 214.90 145.48 214.90 146.74C214.90 148.14 212.94 148.28 212.44 147.02L213.22 148.70L210.98 148.70L211.76 147.02C211.26 148.28 209.30 148.14 209.30 146.74C209.30 145.48 210.84 144.50 212.10 142.82Z" fill="#8b008b"/>
<path d="M213.10 145.32C214.36 147.00 215.90 147.98 215.90 149.24C215.90 150.64 213.94 150.78 213.44 149.52L214.22 151.20L211.98 151.20L212.76 149.52C212.26 150.78 210.30 150.64 210.30 149.24C210.30 147.98 211.84 147.00 213.10 145.32Z" fill="#8b008b"/>
<path d="M214.10 146.91C215.36 148.59 216.90 149.57 216.90 150.83C216.90 152.23 214.94 152.37 214.44 151.11L215.22 152.79L212.98 152.79L213.76 151.11C213.26 152.37 211.30 152.23 211.30 150.83C211.30 149.57 212.84 148.59 214.10 146.91Z" fill="#8b008b"/>
<path d="M215.10 145.39C216.36 147.07 217.90 148.05 217.90 149.31C217.90 150.71 215.94 150.85 215.44 149.59L216.22 151.27L213.98 151.27L214.76 149.59C214.26 150.85 212.30 150.71 212.30 149.31C212.30 148.05 213.84 147.07 215.10 145.39Z" fill="#8b008b"/>
<path d="M216.10 145.67C217.36 147.35 218.90 148.33 218.90 149.59C218.90 150.99 216.94 151.13 216.44 149.87L217.22 151.55L214.98 151.55L215.76 149.87C215.26 151.13 213.30 150.99 213.30 149.59C213.30 148.33 214.84 147.35 216.10 145.67Z" fill="#8b008b"/>
<path d="M217.10 144.28C218.36 145.96 219.90 146.94 219.90 148.20C219.90 149.60 217.94 149.74 217.44 148.48L218.22 150.16L215.98 150.16L216.76 148.48C216.26 149.74 214.30 149.60 214.30 148.20C214.30 146.94 215.84 145.96 217.10 144.28Z" fill="#8b008b"/>
<path d="M218.10 150.15C219.36 151.83 220.90 152.81 220.90 154.07C220.90 155.47 218.94 155.61 218.44 154.35L219.22 156.03L216.98 156.03L217.76 154.35C217.26 155.61 215.30 155.47 215.30 154.07C215.30 152.81 216.84 151.83 218.10 150.15Z" fill="#8b008b"/>
<path d="M219.10 147.22C220.36 148.90 221.90 149.88 221.90 151.14C221.90 152.54 219.94 152.68 219.44 151.42L220.22 153.10L217.98 153.10L218.76 151.42C218.26 152.68 216.30 152.54 216.30 151.14C216.30 149.88 217.84 148.90 219.10 147.22Z" fill="#8b008b"/>
<path d="M220.10 149.24C221.36 150.92 222.90 151.90 222.90 153.16C222.90 154.56 220.94 154.70 220.44 153.44L221.22 155.12L218.98 155.12L219.76 153.44C219.26 154.70 217.30 154.56 217.30 153.16C217.30 151.90 218.84 150.92 220.10 149.24Z" fill="#8b008b"/>
<path d="M221.10 145.54C222.36 147.22 223.90 148.20 223.90 149.46C223.90 150.86 221.94 151.00 221.44 149.74L222.22 151.42L219.98 151.42L220.76 149.74C220.26 151.00 218.30 150.86 218.30 149.46C218.30 148.20 219.84 147.22 221.10 145.54Z" fill="#8b008b"/>
<path d="M104.30 224.90V295.40M101.90 224.90h4.80M101.90 295.40h4.80" stroke="#8b008b" stroke-width="0.80" fill="none"/>
<path d="M108.30 244.00V263.00M105.90 244.00h4.80M105.90 263.00h4.80" stroke="#8b008b" stroke-width="0.80" fill="none"/>
<path d="M111.40 240.50V256.50M109.00 240.50h4.80M109.00 256.50h4.80" stroke="#8b008b" stroke-width="0.80" fill="none"/>
<path d="M114.50 236.50V250.50M112.10 236.50h4.80M112.10 250.50h4.80" stroke="#8b008b" stroke-width="0.80" fill="none"/>
<path d="M116.50 234.00V247.00M114.10 234.00h4.80M114.10 247.00h4.80" stroke="#8b008b" stroke-width="0.80" fill="none"/>
<path d="M118.60 232.70V244.70M116.20 232.70h4.80M116.20 244.70h4.80" stroke="#8b008b" stroke-width="0.80" fill="none"/>
<path d="M121.70 239.90V259.90M119.30 239.90h4.80M119.30 259.90h4.80" stroke="#8b008b" stroke-width="0.80" fill="none"/>
<path d="M124.40 235.30V248.30M122.00 235.30h4.80M122.00 248.30h4.80" stroke="#8b008b" stroke-width="0.80" fill="none"/>
<path d="M120.00 236.00V248.00M117.60 236.00h4.80M117.60 248.00h4.80" stroke="#8b008b" stroke-width="0.80" fill="none"/>
<path d="M104.30 263.70l3.04 3.20l-3.04 3.20l-3.04 -3.20Z" fill="#8b008b"/>
<path d="M108.30 249.80l3.04 3.20l-3.04 3.20l-3.04 -3.20Z" fill="#8b008b"/>
<path d="M111.40 245.30l3.04 3.20l-3.04 3.20l-3.04 -3.20Z" fill="#8b008b"/>
<path d="M114.50 240.30l3.04 3.20l-3.04 3.20l-3.04 -3.20Z" fill="#8b008b"/>
<path d="M116.50 236.80l3.04 3.20l-3.04 3.20l-3.04 -3.20Z" fill="#8b008b"/>
<path d="M118.60 235.50l3.04 3.20l-3.04 3.20l-3.04 -3.20Z" fill="#8b008b"/>
<path d="M121.70 242.70l3.04 3.20l-3.04 3.20l-3.04 -3.20Z" fill="#8b008b"/>
<path d="M124.40 238.10l3.04 3.20l-3.04 3.20l-3.04 -3.20Z" fill="#8b008b"/>
<path d="M120.00 238.80l3.04 3.20l-3.04 3.20l-3.04 -3.20Z" fill="#8b008b"/>
<path d="M126.50 225.98V231.82M124.10 225.98h4.80M124.10 231.82h4.80" stroke="#8b008b" stroke-width="0.80" fill="none"/>
<path d="M127.60 225.15V232.20M125.20 225.15h4.80M125.20 232.20h4.80" stroke="#8b008b" stroke-width="0.80" fill="none"/>
<path d="M128.70 224.01V228.57M126.30 224.01h4.80M126.30 228.57h4.80" stroke="#8b008b" stroke-width="0.80" fill="none"/>
<path d="M129.80 218.31V224.94M127.40 218.31h4.80M127.40 224.94h4.80" stroke="#8b008b" stroke-width="0.80" fill="none"/>
<path d="M130.90 219.07V224.99M128.50 219.07h4.80M128.50 224.99h4.80" stroke="#8b008b" stroke-width="0.80" fill="none"/>
<path d="M132.00 216.38V220.88M129.60 216.38h4.80M129.60 220.88h4.80" stroke="#8b008b" stroke-width="0.80" fill="none"/>
<path d="M133.10 212.09V219.37M130.70 212.09h4.80M130.70 219.37h4.80" stroke="#8b008b" stroke-width="0.80" fill="none"/>
<path d="M134.20 212.18V219.25M131.80 212.18h4.80M131.80 219.25h4.80" stroke="#8b008b" stroke-width="0.80" fill="none"/>
<path d="M135.30 213.19V216.52M132.90 213.19h4.80M132.90 216.52h4.80" stroke="#8b008b" stroke-width="0.80" fill="none"/>
<path d="M136.40 209.33V212.48M134.00 209.33h4.80M134.00 212.48h4.80" stroke="#8b008b" stroke-width="0.80" fill="none"/>
<path d="M137.50 209.00V213.14M135.10 209.00h4.80M135.10 213.14h4.80" stroke="#8b008b" stroke-width="0.80" fill="none"/>
<path d="M138.60 209.09V213.31M136.20 209.09h4.80M136.20 213.31h4.80" stroke="#8b008b" stroke-width="0.80" fill="none"/>
<path d="M139.70 206.90V211.21M137.30 206.90h4.80M137.30 211.21h4.80" stroke="#8b008b" stroke-width="0.80" fill="none"/>
<path d="M140.80 205.28V209.17M138.40 205.28h4.80M138.40 209.17h4.80" stroke="#8b008b" stroke-width="0.80" fill="none"/>
<path d="M141.90 202.52V206.86M139.50 202.52h4.80M139.50 206.86h4.80" stroke="#8b008b" stroke-width="0.80" fill="none"/>
<path d="M143.00 201.73V206.33M140.60 201.73h4.80M140.60 206.33h4.80" stroke="#8b008b" stroke-width="0.80" fill="none"/>
<path d="M144.10 202.27V205.69M141.70 202.27h4.80M141.70 205.69h4.80" stroke="#8b008b" stroke-width="0.80" fill="none"/>
<path d="M145.20 199.31V202.64M142.80 199.31h4.80M142.80 202.64h4.80" stroke="#8b008b" stroke-width="0.80" fill="none"/>
<path d="M146.30 199.27V203.45M143.90 199.27h4.80M143.90 203.45h4.80" stroke="#8b008b" stroke-width="0.80" fill="none"/>
<path d="M147.40 196.96V199.94M145.00 196.96h4.80M145.00 199.94h4.80" stroke="#8b008b" stroke-width="0.80" fill="none"/>
<path d="M148.50 196.61V200.57M146.10 196.61h4.80M146.10 200.57h4.80" stroke="#8b008b" stroke-width="0.80" fill="none"/>
<path d="M149.60 195.30V198.57M147.20 195.30h4.80M147.20 198.57h4.80" stroke="#8b008b" stroke-width="0.80" fill="none"/>
<path d="M150.70 195.98V197.19" stroke="#8b008b" stroke-width="0.80" fill="none"/>
<path d="M151.80 193.57V195.14" stroke="#8b008b" stroke-width="0.80" fill="none"/>
<path d="M152.90 195.29V197.01" stroke="#8b008b" stroke-width="0.80" fill="none"/>
<path d="M154.00 194.08V195.66" stroke="#8b008b" stroke-width="0.80" fill="none"/>
<path d="M155.10 190.48V191.88" stroke="#8b008b" stroke-width="0.80" fill="none"/>
<path d="M156.20 192.38V194.15" stroke="#8b008b" stroke-width="0.80" fill="none"/>
<path d="M157.30 188.98V190.20" stroke="#8b008b" stroke-width="0.80" fill="none"/>
<path d="M158.40 188.59V190.33" stroke="#8b008b" stroke-width="0.80" fill="none"/>
<path d="M159.50 187.50V188.91" stroke="#8b008b" stroke-width="0.80" fill="none"/>
<path d="M160.60 187.40V189.34" stroke="#8b008b" stroke-width="0.80" fill="none"/>
<path d="M161.70 185.26V186.49" stroke="#8b008b" stroke-width="0.80" fill="none"/>
<path d="M162.80 184.93V186.46" stroke="#8b008b" stroke-width="0.80" fill="none"/>
<path d="M163.90 185.82V187.18" stroke="#8b008b" stroke-width="0.80" fill="none"/>
<path d="M165.00 185.44V187.23" stroke="#8b008b" stroke-width="0.80" fill="none"/>
<path d="M166.10 183.78V185.15" stroke="#8b008b" stroke-width="0.80" fill="none"/>
<path d="M167.20 185.31V186.76" stroke="#8b008b" stroke-width="0.80" fill="none"/>
<path d="M168.30 184.42V185.80" stroke="#8b008b" stroke-width="0.80" fill="none"/>
<path d="M169.40 181.40V183.21" stroke="#8b008b" stroke-width="0.80" fill="none"/>
<path d="M170.50 181.35V183.31" stroke="#8b008b" stroke-width="0.80" fill="none"/>
<path d="M171.60 182.16V183.51" stroke="#8b008b" stroke-width="0.80" fill="none"/>
<path d="M172.70 180.58V182.12" stroke="#8b008b" stroke-width="0.80" fill="none"/>
<path d="M173.80 181.89V183.85" stroke="#8b008b" stroke-width="0.80" fill="none"/>
<path d="M174.90 179.59V181.10" stroke="#8b008b" stroke-width="0.80" fill="none"/>
<path d="M176.00 179.45V181.42" stroke="#8b008b" stroke-width="0.80" fill="none"/>
<path d="M177.10 179.34V180.58" stroke="#8b008b" stroke-width="0.80" fill="none"/>
<path d="M178.20 178.69V180.20" stroke="#8b008b" stroke-width="0.80" fill="none"/>
<path d="M179.30 181.83V183.74" stroke="#8b008b" stroke-width="0.80" fill="none"/>
<path d="M180.40 180.92V182.92" stroke="#8b008b" stroke-width="0.80" fill="none"/>
<path d="M181.50 181.70V183.16" stroke="#8b008b" stroke-width="0.80" fill="none"/>
<path d="M182.60 177.82V179.76" stroke="#8b008b" stroke-width="0.80" fill="none"/>
<path d="M183.70 180.03V181.25" stroke="#8b008b" stroke-width="0.80" fill="none"/>
<path d="M184.80 179.04V180.54" stroke="#8b008b" stroke-width="0.80" fill="none"/>
<path d="M185.90 177.34V178.80" stroke="#8b008b" stroke-width="0.80" fill="none"/>
<path d="M187.00 172.86V174.66" stroke="#8b008b" stroke-width="0.80" fill="none"/>
<path d="M188.50 172.61V174.83M186.10 172.61h4.80M186.10 174.83h4.80" stroke="#8b008b" stroke-width="0.80" fill="none"/>
<path d="M190.00 179.49V181.44" stroke="#8b008b" stroke-width="0.80" fill="none"/>
<path d="M191.50 178.50V180.55M189.10 178.50h4.80M189.10 180.55h4.80" stroke="#8b008b" stroke-width="0.80" fill="none"/>
<path d="M193.00 170.94V173.73M190.60 170.94h4.80M190.60 173.73h4.80" stroke="#8b008b" stroke-width="0.80" fill="none"/>
<path d="M194.50 178.59V180.91M192.10 178.59h4.80M192.10 180.91h4.80" stroke="#8b008b" stroke-width="0.80" fill="none"/>
<path d="M196.00 171.41V173.78M193.60 171.41h4.80M193.60 173.78h4.80" stroke="#8b008b" stroke-width="0.80" fill="none"/>
<path d="M197.50 177.12V180.03M195.10 177.12h4.80M195.10 180.03h4.80" stroke="#8b008b" stroke-width="0.80" fill="none"/>
<path d="M199.00 177.11V179.35M196.60 177.11h4.80M196.60 179.35h4.80" stroke="#8b008b" stroke-width="0.80" fill="none"/>
<path d="M200.50 187.08V188.92" stroke="#8b008b" stroke-width="0.80" fill="none"/>
<path d="M202.00 181.37V184.14M199.60 181.37h4.80M199.60 184.14h4.80" stroke="#8b008b" stroke-width="0.80" fill="none"/>
<path d="M203.50 186.69V188.54" stroke="#8b008b" stroke-width="0.80" fill="none"/>
<path d="M205.00 178.48V180.36" stroke="#8b008b" stroke-width="0.80" fill="none"/>
<path d="M206.50 188.99V191.10M204.10 188.99h4.80M204.10 191.10h4.80" stroke="#8b008b" stroke-width="0.80" fill="none"/>
<path d="M208.00 186.53V189.41M205.60 186.53h4.80M205.60 189.41h4.80" stroke="#8b008b" stroke-width="0.80" fill="none"/>
<path d="M209.50 182.01V184.13M207.10 182.01h4.80M207.10 184.13h4.80" stroke="#8b008b" stroke-width="0.80" fill="none"/>
<path d="M211.00 188.55V191.09M208.60 188.55h4.80M208.60 191.09h4.80" stroke="#8b008b" stroke-width="0.80" fill="none"/>
<path d="M212.50 179.23V181.89M210.10 179.23h4.80M210.10 181.89h4.80" stroke="#8b008b" stroke-width="0.80" fill="none"/>
<path d="M214.00 179.23V181.36M211.60 179.23h4.80M211.60 181.36h4.80" stroke="#8b008b" stroke-width="0.80" fill="none"/>
<path d="M215.50 174.55V177.26M213.10 174.55h4.80M213.10 177.26h4.80" stroke="#8b008b" stroke-width="0.80" fill="none"/>
<path d="M217.00 184.93V187.49M214.60 184.93h4.80M214.60 187.49h4.80" stroke="#8b008b" stroke-width="0.80" fill="none"/>
<path d="M218.50 185.65V187.48" stroke="#8b008b" stroke-width="0.80" fill="none"/>
<path d="M220.00 177.25V179.62M217.60 177.25h4.80M217.60 179.62h4.80" stroke="#8b008b" stroke-width="0.80" fill="none"/>
<path d="M221.50 186.01V188.95M219.10 186.01h4.80M219.10 188.95h4.80" stroke="#8b008b" stroke-width="0.80" fill="none"/>
<path d="M126.50 225.51l3.04 3.20l-3.04 3.20l-3.04 -3.20Z" fill="#8b008b"/>
<path d="M127.60 225.24l3.04 3.20l-3.04 3.20l-3.04 -3.20Z" fill="#8b008b"/>
<path d="M128.70 222.94l3.04 3.20l-3.04 3.20l-3.04 -3.20Z" fill="#8b008b"/>
<path d="M129.80 218.21l3.04 3.20l-3.04 3.20l-3.04 -3.20Z" fill="#8b008b"/>
<path d="M130.90 218.63l3.04 3.20l-3.04 3.20l-3.04 -3.20Z" fill="#8b008b"/>
<path d="M132.00 215.28l3.04 3.20l-3.04 3.20l-3.04 -3.20Z" fill="#8b008b"/>
<path d="M133.10 212.29l3.04 3.20l-3.04 3.20l-3.04 -3.20Z" fill="#8b008b"/>
<path d="M134.20 212.28l3.04 3.20l-3.04 3.20l-3.04 -3.20Z" fill="#8b008b"/>
<path d="M135.30 211.57l3.04 3.20l-3.04 3.20l-3.04 -3.20Z" fill="#8b008b"/>
<path d="M136.40 207.62l3.04 3.20l-3.04 3.20l-3.04 -3.20Z" fill="#8b008b"/>
<path d="M137.50 207.76l3.04 3.20l-3.04 3.20l-3.04 -3.20Z" fill="#8b008b"/>
<path d="M138.60 207.89l3.04 3.20l-3.04 3.20l-3.04 -3.20Z" fill="#8b008b"/>
<path d="M139.70 205.74l3.04 3.20l-3.04 3.20l-3.04 -3.20Z" fill="#8b008b"/>
<path d="M140.80 203.92l3.04 3.20l-3.04 3.20l-3.04 -3.20Z" fill="#8b008b"/>
<path d="M141.90 201.38l3.04 3.20l-3.04 3.20l-3.04 -3.20Z" fill="#8b008b"/>
<path d="M143.00 200.71l3.04 3.20l-3.04 3.20l-3.04 -3.20Z" fill="#8b008b"/>
<path d="M144.10 200.69l3.04 3.20l-3.04 3.20l-3.04 -3.20Z" fill="#8b008b"/>
<path d="M145.20 197.69l3.04 3.20l-3.04 3.20l-3.04 -3.20Z" fill="#8b008b"/>
<path d="M146.30 198.05l3.04 3.20l-3.04 3.20l-3.04 -3.20Z" fill="#8b008b"/>
<path d="M147.40 195.17l3.04 3.20l-3.04 3.20l-3.04 -3.20Z" fill="#8b008b"/>
<path d="M148.50 195.29l3.04 3.20l-3.04 3.20l-3.04 -3.20Z" fill="#8b008b"/>
<path d="M149.60 193.65l3.04 3.20l-3.04 3.20l-3.04 -3.20Z" fill="#8b008b"/>
<path d="M150.70 193.38l3.04 3.20l-3.04 3.20l-3.04 -3.20Z" fill="#8b008b"/>
<path d="M151.80 191.16l3.04 3.20l-3.04 3.20l-3.04 -3.20Z" fill="#8b008b"/>
<path d="M152.90 192.95l3.04 3.20l-3.04 3.20l-3.04 -3.20Z" fill="#8b008b"/>
<path d="M154.00 191.67l3.04 3.20l-3.04 3.20l-3.04 -3.20Z" fill="#8b008b"/>
<path d="M155.10 187.98l3.04 3.20l-3.04 3.20l-3.04 -3.20Z" fill="#8b008b"/>
<path d="M156.20 190.07l3.04 3.20l-3.04 3.20l-3.04 -3.20Z" fill="#8b008b"/>
<path d="M157.30 186.39l3.04 3.20l-3.04 3.20l-3.04 -3.20Z" fill="#8b008b"/>
<path d="M158.40 186.26l3.04 3.20l-3.04 3.20l-3.04 -3.20Z" fill="#8b008b"/>
<path d="M159.50 185.00l3.04 3.20l-3.04 3.20l-3.04 -3.20Z" fill="#8b008b"/>
<path d="M160.60 185.17l3.04 3.20l-3.04 3.20l-3.04 -3.20Z" fill="#8b008b"/>
<path d="M161.70 182.67l3.04 3.20l-3.04 3.20l-3.04 -3.20Z" fill="#8b008b"/>
<path d="M162.80 182.50l3.04 3.20l-3.04 3.20l-3.04 -3.20Z" fill="#8b008b"/>
<path d="M163.90 183.30l3.04 3.20l-3.04 3.20l-3.04 -3.20Z" fill="#8b008b"/>
<path d="M165.00 183.14l3.04 3.20l-3.04 3.20l-3.04 -3.20Z" fill="#8b008b"/>
<path d="M166.10 181.26l3.04 3.20l-3.04 3.20l-3.04 -3.20Z" fill="#8b008b"/>
<path d="M167.20 182.83l3.04 3.20l-3.04 3.20l-3.04 -3.20Z" fill="#8b008b"/>
<path d="M168.30 181.91l3.04 3.20l-3.04 3.20l-3.04 -3.20Z" fill="#8b008b"/>
<path d="M169.40 179.11l3.04 3.20l-3.04 3.20l-3.04 -3.20Z" fill="#8b008b"/>
<path d="M170.50 179.13l3.04 3.20l-3.04 3.20l-3.04 -3.20Z" fill="#8b008b"/>
<path d="M171.60 179.64l3.04 3.20l-3.04 3.20l-3.04 -3.20Z" fill="#8b008b"/>
<path d="M172.70 178.15l3.04 3.20l-3.04 3.20l-3.04 -3.20Z" fill="#8b008b"/>
<path d="M173.80 179.67l3.04 3.20l-3.04 3.20l-3.04 -3.20Z" fill="#8b008b"/>
<path d="M174.90 177.15l3.04 3.20l-3.04 3.20l-3.04 -3.20Z" fill="#8b008b"/>
<path d="M176.00 177.24l3.04 3.20l-3.04 3.20l-3.04 -3.20Z" fill="#8b008b"/>
<path d="M177.10 176.76l3.04 3.20l-3.04 3.20l-3.04 -3.20Z" fill="#8b008b"/>
<path d="M178.20 176.24l3.04 3.20l-3.04 3.20l-3.04 -3.20Z" fill="#8b008b"/>
<path d="M179.30 179.59l3.04 3.20l-3.04 3.20l-3.04 -3.20Z" fill="#8b008b"/>
<path d="M180.40 178.72l3.04 3.20l-3.04 3.20l-3.04 -3.20Z" fill="#8b008b"/>
<path d="M181.50 179.23l3.04 3.20l-3.04 3.20l-3.04 -3.20Z" fill="#8b008b"/>
<path d="M182.60 175.59l3.04 3.20l-3.04 3.20l-3.04 -3.20Z" fill="#8b008b"/>
<path d="M183.70 177.44l3.04 3.20l-3.04 3.20l-3.04 -3.20Z" fill="#8b008b"/>
<path d="M184.80 176.59l3.04 3.20l-3.04 3.20l-3.04 -3.20Z" fill="#8b008b"/>
<path d="M185.90 174.87l3.04 3.20l-3.04 3.20l-3.04 -3.20Z" fill="#8b008b"/>
<path d="M187.00 170.56l3.04 3.20l-3.04 3.20l-3.04 -3.20Z" fill="#8b008b"/>
<path d="M188.50 170.52l3.04 3.20l-3.04 3.20l-3.04 -3.20Z" fill="#8b008b"/>
<path d="M190.00 177.27l3.04 3.20l-3.04 3.20l-3.04 -3.20Z" fill="#8b008b"/>
<path d="M191.50 176.32l3.04 3.20l-3.04 3.20l-3.04 -3.20Z" fill="#8b008b"/>
<path d="M193.00 169.13l3.04 3.20l-3.04 3.20l-3.04 -3.20Z" fill="#8b008b"/>
<path d="M194.50 176.55l3.04 3.20l-3.04 3.20l-3.04 -3.20Z" fill="#8b008b"/>
<path d="M196.00 169.39l3.04 3.20l-3.04 3.20l-3.04 -3.20Z" fill="#8b008b"/>
<path d="M197.50 175.38l3.04 3.20l-3.04 3.20l-3.04 -3.20Z" fill="#8b008b"/>
<path d="M199.00 175.03l3.04 3.20l-3.04 3.20l-3.04 -3.20Z" fill="#8b008b"/>
<path d="M200.50 184.80l3.04 3.20l-3.04 3.20l-3.04 -3.20Z" fill="#8b008b"/>
<path d="M202.00 179.55l3.04 3.20l-3.04 3.20l-3.04 -3.20Z" fill="#8b008b"/>
<path d="M203.50 184.41l3.04 3.20l-3.04 3.20l-3.04 -3.20Z" fill="#8b008b"/>
<path d="M205.00 176.22l3.04 3.20l-3.04 3.20l-3.04 -3.20Z" fill="#8b008b"/>
<path d="M206.50 186.84l3.04 3.20l-3.04 3.20l-3.04 -3.20Z" fill="#8b008b"/>
<path d="M208.00 184.77l3.04 3.20l-3.04 3.20l-3.04 -3.20Z" fill="#8b008b"/>
<path d="M209.50 179.87l3.04 3.20l-3.04 3.20l-3.04 -3.20Z" fill="#8b008b"/>
<path d="M211.00 186.62l3.04 3.20l-3.04 3.20l-3.04 -3.20Z" fill="#8b008b"/>
<path d="M212.50 177.36l3.04 3.20l-3.04 3.20l-3.04 -3.20Z" fill="#8b008b"/>
<path d="M214.00 177.10l3.04 3.20l-3.04 3.20l-3.04 -3.20Z" fill="#8b008b"/>
<path d="M215.50 172.70l3.04 3.20l-3.04 3.20l-3.04 -3.20Z" fill="#8b008b"/>
<path d="M217.00 183.01l3.04 3.20l-3.04 3.20l-3.04 -3.20Z" fill="#8b008b"/>
<path d="M218.50 183.37l3.04 3.20l-3.04 3.20l-3.04 -3.20Z" fill="#8b008b"/>
<path d="M220.00 175.23l3.04 3.20l-3.04 3.20l-3.04 -3.20Z" fill="#8b008b"/>
<path d="M221.50 184.28l3.04 3.20l-3.04 3.20l-3.04 -3.20Z" fill="#8b008b"/>
<path d="M70.50 283.50L70.50 274.50" stroke="#000" stroke-width="1.00"/>
<path d="M70.50 15.10L70.50 24.10" stroke="#000" stroke-width="1.00"/>
<path d="M82.65 283.50L82.65 278.80" stroke="#000" stroke-width="0.80"/>
<path d="M82.65 15.10L82.65 19.80" stroke="#000" stroke-width="0.80"/>
<path d="M94.81 283.50L94.81 274.50" stroke="#000" stroke-width="1.00"/>
<path d="M94.81 15.10L94.81 24.10" stroke="#000" stroke-width="1.00"/>
<path d="M106.96 283.50L106.96 278.80" stroke="#000" stroke-width="0.80"/>
<path d="M106.96 15.10L106.96 19.80" stroke="#000" stroke-width="0.80"/>
<path d="M119.12 283.50L119.12 274.50" stroke="#000" stroke-width="1.00"/>
<path d="M119.12 15.10L119.12 24.10" stroke="#000" stroke-width="1.00"/>
<path d="M131.27 283.50L131.27 278.80" stroke="#000" stroke-width="0.80"/>
<path d="M131.27 15.10L131.27 19.80" stroke="#000" stroke-width="0.80"/>
<path d="M143.43 283.50L143.43 274.50" stroke="#000" stroke-width="1.00"/>
<path d="M143.43 15.10L143.43 24.10" stroke="#000" stroke-width="1.00"/>
<path d="M155.58 283.50L155.58 278.80" stroke="#000" stroke-width="0.80"/>
<path d="M155.58 15.10L155.58 19.80" stroke="#000" stroke-width="0.80"/>
<path d="M167.74 283.50L167.74 274.50" stroke="#000" stroke-width="1.00"/>
<path d="M167.74 15.10L167.74 24.10" stroke="#000" stroke-width="1.00"/>
<path d="M179.89 283.50L179.89 278.80" stroke="#000" stroke-width="0.80"/>
<path d="M179.89 15.10L179.89 19.80" stroke="#000" stroke-width="0.80"/>
<path d="M192.05 283.50L192.05 274.50" stroke="#000" stroke-width="1.00"/>
<path d="M192.05 15.10L192.05 24.10" stroke="#000" stroke-width="1.00"/>
<path d="M204.20 283.50L204.20 278.80" stroke="#000" stroke-width="0.80"/>
<path d="M204.20 15.10L204.20 19.80" stroke="#000" stroke-width="0.80"/>
<path d="M216.35 283.50L216.35 274.50" stroke="#000" stroke-width="1.00"/>
<path d="M216.35 15.10L216.35 24.10" stroke="#000" stroke-width="1.00"/>
<path d="M228.51 283.50L228.51 278.80" stroke="#000" stroke-width="0.80"/>
<path d="M228.51 15.10L228.51 19.80" stroke="#000" stroke-width="0.80"/>
<path d="M240.66 283.50L240.66 274.50" stroke="#000" stroke-width="1.00"/>
<path d="M240.66 15.10L240.66 24.10" stroke="#000" stroke-width="1.00"/>
<path d="M252.82 283.50L252.82 278.80" stroke="#000" stroke-width="0.80"/>
<path d="M252.82 15.10L252.82 19.80" stroke="#000" stroke-width="0.80"/>
<path d="M264.97 283.50L264.97 274.50" stroke="#000" stroke-width="1.00"/>
<path d="M264.97 15.10L264.97 24.10" stroke="#000" stroke-width="1.00"/>
<path d="M277.13 283.50L277.13 278.80" stroke="#000" stroke-width="0.80"/>
<path d="M277.13 15.10L277.13 19.80" stroke="#000" stroke-width="0.80"/>
<path d="M289.28 283.50L289.28 274.50" stroke="#000" stroke-width="1.00"/>
<path d="M289.28 15.10L289.28 24.10" stroke="#000" stroke-width="1.00"/>
<path d="M301.44 283.50L301.44 278.80" stroke="#000" stroke-width="0.80"/>
<path d="M301.44 15.10L301.44 19.80" stroke="#000" stroke-width="0.80"/>
<path d="M313.59 283.50L313.59 274.50" stroke="#000" stroke-width="1.00"/>
<path d="M313.59 15.10L313.59 24.10" stroke="#000" stroke-width="1.00"/>
<path d="M325.75 283.50L325.75 278.80" stroke="#000" stroke-width="0.80"/>
<path d="M325.75 15.10L325.75 19.80" stroke="#000" stroke-width="0.80"/>
<path d="M337.90 283.50L337.90 274.50" stroke="#000" stroke-width="1.00"/>
<path d="M337.90 15.10L337.90 24.10" stroke="#000" stroke-width="1.00"/>
<path d="M70.50 283.50L79.50 283.50" stroke="#000" stroke-width="1.00"/>
<path d="M337.90 283.50L328.90 283.50" stroke="#000" stroke-width="1.00"/>
<path d="M70.50 270.03L75.20 270.03" stroke="#000" stroke-width="0.80"/>
<path d="M337.90 270.03L333.20 270.03" stroke="#000" stroke-width="0.80"/>
<path d="M70.50 262.16L75.20 262.16" stroke="#000" stroke-width="0.80"/>
<path d="M337.90 262.16L333.20 262.16" stroke="#000" stroke-width="0.80"/>
<path d="M70.50 256.57L75.20 256.57" stroke="#000" stroke-width="0.80"/>
<path d="M337.90 256.57L333.20 256.57" stroke="#000" stroke-width="0.80"/>
<path d="M70.50 252.23L75.20 252.23" stroke="#000" stroke-width="0.80"/>
<path d="M337.90 252.23L333.20 252.23" stroke="#000" stroke-width="0.80"/>
<path d="M70.50 248.69L75.20 248.69" stroke="#000" stroke-width="0.80"/>
<path d="M337.90 248.69L333.20 248.69" stroke="#000" stroke-width="0.80"/>
<path d="M70.50 245.70L75.20 245.70" stroke="#000" stroke-width="0.80"/>
<path d="M337.90 245.70L333.20 245.70" stroke="#000" stroke-width="0.80"/>
<path d="M70.50 243.10L75.20 243.10" stroke="#000" stroke-width="0.80"/>
<path d="M337.90 243.10L333.20 243.10" stroke="#000" stroke-width="0.80"/>
<path d="M70.50 240.81L75.20 240.81" stroke="#000" stroke-width="0.80"/>
<path d="M337.90 240.81L333.20 240.81" stroke="#000" stroke-width="0.80"/>
<path d="M70.50 238.77L79.50 238.77" stroke="#000" stroke-width="1.00"/>
<path d="M337.90 238.77L328.90 238.77" stroke="#000" stroke-width="1.00"/>
<path d="M70.50 225.30L75.20 225.30" stroke="#000" stroke-width="0.80"/>
<path d="M337.90 225.30L333.20 225.30" stroke="#000" stroke-width="0.80"/>
<path d="M70.50 217.42L75.20 217.42" stroke="#000" stroke-width="0.80"/>
<path d="M337.90 217.42L333.20 217.42" stroke="#000" stroke-width="0.80"/>
<path d="M70.50 211.83L75.20 211.83" stroke="#000" stroke-width="0.80"/>
<path d="M337.90 211.83L333.20 211.83" stroke="#000" stroke-width="0.80"/>
<path d="M70.50 207.50L75.20 207.50" stroke="#000" stroke-width="0.80"/>
<path d="M337.90 207.50L333.20 207.50" stroke="#000" stroke-width="0.80"/>
<path d="M70.50 203.96L75.20 203.96" stroke="#000" stroke-width="0.80"/>
<path d="M337.90 203.96L333.20 203.96" stroke="#000" stroke-width="0.80"/>
<path d="M70.50 200.96L75.20 200.96" stroke="#000" stroke-width="0.80"/>
<path d="M337.90 200.96L333.20 200.96" stroke="#000" stroke-width="0.80"/>
<path d="M70.50 198.37L75.20 198.37" stroke="#000" stroke-width="0.80"/>
<path d="M337.90 198.37L333.20 198.37" stroke="#000" stroke-width="0.80"/>
<path d="M70.50 196.08L75.20 196.08" stroke="#000" stroke-width="0.80"/>
<path d="M337.90 196.08L333.20 196.08" stroke="#000" stroke-width="0.80"/>
<path d="M70.50 194.03L79.50 194.03" stroke="#000" stroke-width="1.00"/>
<path d="M337.90 194.03L328.90 194.03" stroke="#000" stroke-width="1.00"/>
<path d="M70.50 180.57L75.20 180.57" stroke="#000" stroke-width="0.80"/>
<path d="M337.90 180.57L333.20 180.57" stroke="#000" stroke-width="0.80"/>
<path d="M70.50 172.69L75.20 172.69" stroke="#000" stroke-width="0.80"/>
<path d="M337.90 172.69L333.20 172.69" stroke="#000" stroke-width="0.80"/>
<path d="M70.50 167.10L75.20 167.10" stroke="#000" stroke-width="0.80"/>
<path d="M337.90 167.10L333.20 167.10" stroke="#000" stroke-width="0.80"/>
<path d="M70.50 162.77L75.20 162.77" stroke="#000" stroke-width="0.80"/>
<path d="M337.90 162.77L333.20 162.77" stroke="#000" stroke-width="0.80"/>
<path d="M70.50 159.22L75.20 159.22" stroke="#000" stroke-width="0.80"/>
<path d="M337.90 159.22L333.20 159.22" stroke="#000" stroke-width="0.80"/>
<path d="M70.50 156.23L75.20 156.23" stroke="#000" stroke-width="0.80"/>
<path d="M337.90 156.23L333.20 156.23" stroke="#000" stroke-width="0.80"/>
<path d="M70.50 153.64L75.20 153.64" stroke="#000" stroke-width="0.80"/>
<path d="M337.90 153.64L333.20 153.64" stroke="#000" stroke-width="0.80"/>
<path d="M70.50 151.35L75.20 151.35" stroke="#000" stroke-width="0.80"/>
<path d="M337.90 151.35L333.20 151.35" stroke="#000" stroke-width="0.80"/>
<path d="M70.50 149.30L79.50 149.30" stroke="#000" stroke-width="1.00"/>
<path d="M337.90 149.30L328.90 149.30" stroke="#000" stroke-width="1.00"/>
<path d="M70.50 135.83L75.20 135.83" stroke="#000" stroke-width="0.80"/>
<path d="M337.90 135.83L333.20 135.83" stroke="#000" stroke-width="0.80"/>
<path d="M70.50 127.96L75.20 127.96" stroke="#000" stroke-width="0.80"/>
<path d="M337.90 127.96L333.20 127.96" stroke="#000" stroke-width="0.80"/>
<path d="M70.50 122.37L75.20 122.37" stroke="#000" stroke-width="0.80"/>
<path d="M337.90 122.37L333.20 122.37" stroke="#000" stroke-width="0.80"/>
<path d="M70.50 118.03L75.20 118.03" stroke="#000" stroke-width="0.80"/>
<path d="M337.90 118.03L333.20 118.03" stroke="#000" stroke-width="0.80"/>
<path d="M70.50 114.49L75.20 114.49" stroke="#000" stroke-width="0.80"/>
<path d="M337.90 114.49L333.20 114.49" stroke="#000" stroke-width="0.80"/>
<path d="M70.50 111.50L75.20 111.50" stroke="#000" stroke-width="0.80"/>
<path d="M337.90 111.50L333.20 111.50" stroke="#000" stroke-width="0.80"/>
<path d="M70.50 108.90L75.20 108.90" stroke="#000" stroke-width="0.80"/>
<path d="M337.90 108.90L333.20 108.90" stroke="#000" stroke-width="0.80"/>
<path d="M70.50 106.61L75.20 106.61" stroke="#000" stroke-width="0.80"/>
<path d="M337.90 106.61L333.20 106.61" stroke="#000" stroke-width="0.80"/>
<path d="M70.50 104.57L79.50 104.57" stroke="#000" stroke-width="1.00"/>
<path d="M337.90 104.57L328.90 104.57" stroke="#000" stroke-width="1.00"/>
<path d="M70.50 91.10L75.20 91.10" stroke="#000" stroke-width="0.80"/>
<path d="M337.90 91.10L333.20 91.10" stroke="#000" stroke-width="0.80"/>
<path d="M70.50 83.22L75.20 83.22" stroke="#000" stroke-width="0.80"/>
<path d="M337.90 83.22L333.20 83.22" stroke="#000" stroke-width="0.80"/>
<path d="M70.50 77.63L75.20 77.63" stroke="#000" stroke-width="0.80"/>
<path d="M337.90 77.63L333.20 77.63" stroke="#000" stroke-width="0.80"/>
<path d="M70.50 73.30L75.20 73.30" stroke="#000" stroke-width="0.80"/>
<path d="M337.90 73.30L333.20 73.30" stroke="#000" stroke-width="0.80"/>
<path d="M70.50 69.76L75.20 69.76" stroke="#000" stroke-width="0.80"/>
<path d="M337.90 69.76L333.20 69.76" stroke="#000" stroke-width="0.80"/>
<path d="M70.50 66.76L75.20 66.76" stroke="#000" stroke-width="0.80"/>
<path d="M337.90 66.76L333.20 66.76" stroke="#000" stroke-width="0.80"/>
<path d="M70.50 64.17L75.20 64.17" stroke="#000" stroke-width="0.80"/>
<path d="M337.90 64.17L333.20 64.17" stroke="#000" stroke-width="0.80"/>
<path d="M70.50 61.88L75.20 61.88" stroke="#000" stroke-width="0.80"/>
<path d="M337.90 61.88L333.20 61.88" stroke="#000" stroke-width="0.80"/>
<path d="M70.50 59.83L79.50 59.83" stroke="#000" stroke-width="1.00"/>
<path d="M337.90 59.83L328.90 59.83" stroke="#000" stroke-width="1.00"/>
<path d="M70.50 46.37L75.20 46.37" stroke="#000" stroke-width="0.80"/>
<path d="M337.90 46.37L333.20 46.37" stroke="#000" stroke-width="0.80"/>
<path d="M70.50 38.49L75.20 38.49" stroke="#000" stroke-width="0.80"/>
<path d="M337.90 38.49L333.20 38.49" stroke="#000" stroke-width="0.80"/>
<path d="M70.50 32.90L75.20 32.90" stroke="#000" stroke-width="0.80"/>
<path d="M337.90 32.90L333.20 32.90" stroke="#000" stroke-width="0.80"/>
<path d="M70.50 28.57L75.20 28.57" stroke="#000" stroke-width="0.80"/>
<path d="M337.90 28.57L333.20 28.57" stroke="#000" stroke-width="0.80"/>
<path d="M70.50 25.02L75.20 25.02" stroke="#000" stroke-width="0.80"/>
<path d="M337.90 25.02L333.20 25.02" stroke="#000" stroke-width="0.80"/>
<path d="M70.50 22.03L75.20 22.03" stroke="#000" stroke-width="0.80"/>
<path d="M337.90 22.03L333.20 22.03" stroke="#000" stroke-width="0.80"/>
<path d="M70.50 19.44L75.20 19.44" stroke="#000" stroke-width="0.80"/>
<path d="M337.90 19.44L333.20 19.44" stroke="#000" stroke-width="0.80"/>
<path d="M70.50 17.15L75.20 17.15" stroke="#000" stroke-width="0.80"/>
<path d="M337.90 17.15L333.20 17.15" stroke="#000" stroke-width="0.80"/>
<rect x="70.50" y="15.10" width="48.20" height="36.50" fill="#fff" stroke="#000" stroke-width="0.7"/>
<path d="M119.12 15.10L119.12 24.10" stroke="#000" stroke-width="1.00"/>
<rect x="70.50" y="15.10" width="267.40" height="268.40" fill="none" stroke="#000" stroke-width="1.1"/>
<circle cx="238.60" cy="128.40" r="2.35" fill="none" stroke="#ff0000" stroke-width="0.85"/>
<rect x="236.30" y="143.70" width="4.60" height="4.60" fill="none" stroke="#228b22" stroke-width="0.80"/>
<path d="M238.60 160.70L240.97 165.82L236.22 165.82Z" fill="none" stroke="#d2691e" stroke-width="0.80"/>
<path d="M238.70 214.20l2.85 3.00l-2.85 3.00l-2.85 -3.00Z" fill="#8b008b"/>
<path d="M238.70 232.16C239.96 233.84 241.50 234.82 241.50 236.08C241.50 237.48 239.54 237.62 239.04 236.36L239.82 238.04L237.58 238.04L238.36 236.36C237.86 237.62 235.90 237.48 235.90 236.08C235.90 234.82 237.44 233.84 238.70 232.16Z" fill="#8b008b"/>
<path d="M238.70 250.40L238.70 255.20M240.78 251.60L236.62 254.00M240.78 254.00L236.62 251.60" stroke="#8b008b" stroke-width="0.80" fill="none"/>
</svg>
<div id="txt">
<div class="c" style="left:70.50px;top:291.74px;font-size:17.5px;">3</div>
<div class="c" style="left:94.81px;top:291.74px;font-size:17.5px;">4</div>
<div class="c" style="left:119.12px;top:291.74px;font-size:17.5px;">5</div>
<div class="c" style="left:143.43px;top:291.74px;font-size:17.5px;">6</div>
<div class="c" style="left:167.74px;top:291.74px;font-size:17.5px;">7</div>
<div class="c" style="left:192.05px;top:291.74px;font-size:17.5px;">8</div>
<div class="c" style="left:216.35px;top:291.74px;font-size:17.5px;">9</div>
<div class="c" style="left:240.66px;top:291.74px;font-size:17.5px;">10</div>
<div class="c" style="left:264.97px;top:291.74px;font-size:17.5px;">11</div>
<div class="c" style="left:289.28px;top:291.74px;font-size:17.5px;">12</div>
<div class="c" style="left:313.59px;top:291.74px;font-size:17.5px;">13</div>
<div class="c" style="left:337.90px;top:291.74px;font-size:17.5px;">14</div>
<div class="r" style="right:292.40px;top:53.58px;font-size:17.5px;">10<span style="font-size:11px;position:relative;top:-9.6px;">2</span></div>
<div class="r" style="right:292.40px;top:95.81px;font-size:17.5px;">10</div>
<div class="r" style="right:292.40px;top:140.54px;font-size:17.5px;">1</div>
<div class="r" style="right:292.40px;top:187.78px;font-size:17.5px;">10<span style="font-size:11px;position:relative;top:-9.6px;">-1</span></div>
<div class="r" style="right:292.40px;top:232.51px;font-size:17.5px;">10<span style="font-size:11px;position:relative;top:-9.6px;">-2</span></div>
<div class="r" style="right:292.40px;top:277.24px;font-size:17.5px;">10<span style="font-size:11px;position:relative;top:-9.6px;">-3</span></div>
<div class="t" style="left:162.5px;top:313.61px;font-size:21px;"><i>E</i><span style="font-size:17px;position:relative;top:4px;font-style:italic;letter-spacing:0.3px;">α</span> (MeV)</div>
<div class="t" style="left:0;top:0;font-size:21px;transform-origin:0 0;transform:translate(2.5px,178px) rotate(-90deg);"><i style="display:inline-block;transform:scaleX(1.3);transform-origin:0 50%;margin-right:4px;">σ</i> (mb)</div>
<div class="t" style="left:79.2px;top:28.46px;font-size:18.2px;"><span style="font-size:12.5px;position:relative;top:-10.6px;">45</span>Sc</div>
<div class="t" style="left:247.60px;top:103.70px;font-size:14.80px;">(<i style="display:inline-block;transform:scaleX(1.28);transform-origin:0 50%;margin-right:2px;">α</i>,<i>n</i>):</div>
<div class="t" style="left:247.60px;top:121.20px;font-size:14.80px;">Chen 1964</div>
<div class="t" style="left:247.60px;top:138.70px;font-size:14.80px;">Vlieks 1974</div>
<div class="t" style="left:247.60px;top:156.41px;font-size:14.80px;">Hansper 1989</div>
<div class="t" style="left:247.60px;top:192.70px;font-size:14.80px;">(<i style="display:inline-block;transform:scaleX(1.28);transform-origin:0 50%;margin-right:2px;">α</i>,<i>p</i>):</div>
<div class="t" style="left:247.60px;top:210.10px;font-size:14.80px;">Hansper, <i>p</i><span style="font-size:10.5px;position:relative;top:3px;">0</span></div>
<div class="t" style="left:247.60px;top:227.60px;font-size:14.80px;">Hansper, <i>p</i><span style="font-size:10.5px;position:relative;top:3px;">1</span></div>
<div class="t" style="left:247.60px;top:245.10px;font-size:14.80px;">Hansper, <i>p</i><span style="font-size:10.5px;position:relative;top:3px;">2-3</span></div>
</div>
</body></html>
